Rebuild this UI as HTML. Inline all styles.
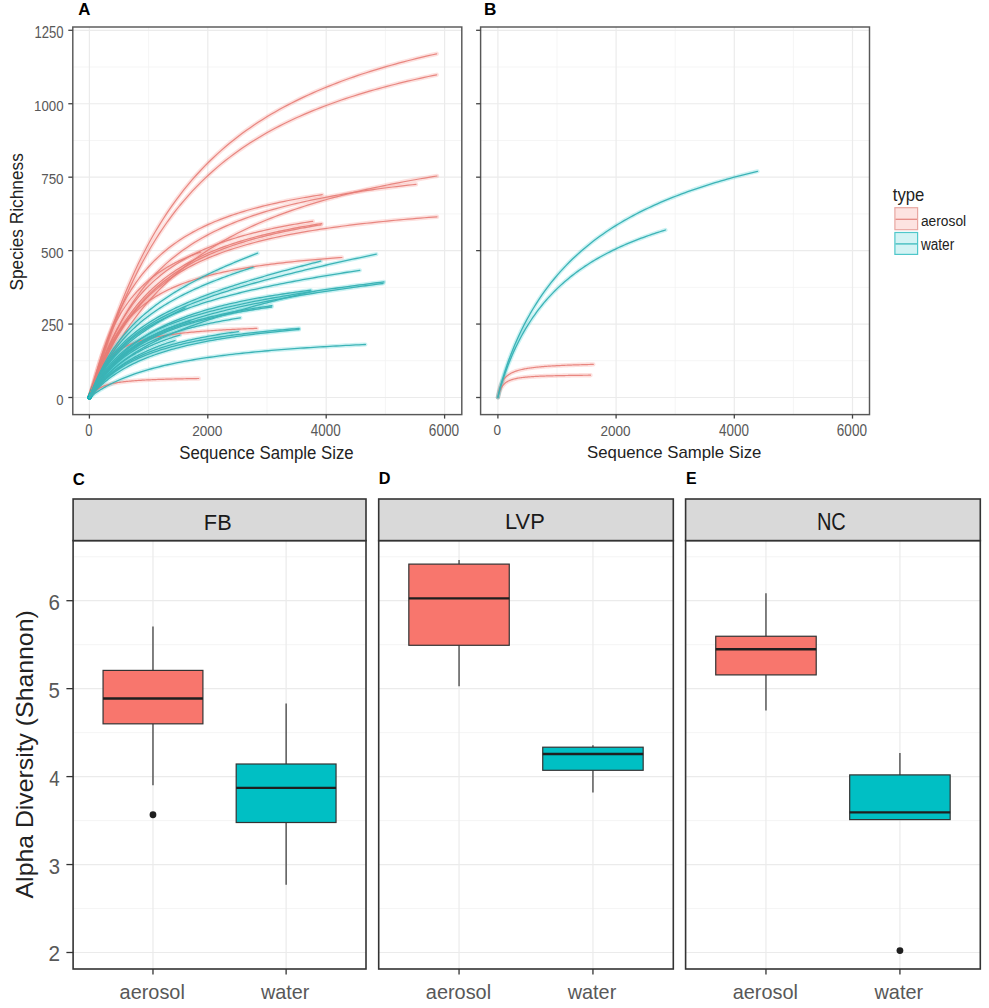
<!DOCTYPE html>
<html><head><meta charset="utf-8"><style>
html,body{margin:0;padding:0;background:#fff;}
body{width:989px;height:1008px;overflow:hidden;font-family:"Liberation Sans",sans-serif;}
svg{display:block;}
text{font-family:"Liberation Sans",sans-serif;}
</style></head><body>
<svg width="989" height="1008" viewBox="0 0 989 1008" font-family="Liberation Sans, sans-serif">
<rect x="0" y="0" width="989" height="1008" fill="#ffffff"/>
<line x1="72.80" y1="360.78" x2="461.80" y2="360.78" stroke="#f3f3f3" stroke-width="0.80"/>
<line x1="72.80" y1="287.34" x2="461.80" y2="287.34" stroke="#f3f3f3" stroke-width="0.80"/>
<line x1="72.80" y1="213.90" x2="461.80" y2="213.90" stroke="#f3f3f3" stroke-width="0.80"/>
<line x1="72.80" y1="140.46" x2="461.80" y2="140.46" stroke="#f3f3f3" stroke-width="0.80"/>
<line x1="72.80" y1="67.02" x2="461.80" y2="67.02" stroke="#f3f3f3" stroke-width="0.80"/>
<line x1="148.60" y1="27.00" x2="148.60" y2="414.60" stroke="#f3f3f3" stroke-width="0.80"/>
<line x1="267.00" y1="27.00" x2="267.00" y2="414.60" stroke="#f3f3f3" stroke-width="0.80"/>
<line x1="385.40" y1="27.00" x2="385.40" y2="414.60" stroke="#f3f3f3" stroke-width="0.80"/>
<line x1="72.80" y1="397.50" x2="461.80" y2="397.50" stroke="#ebebeb" stroke-width="1.20"/>
<line x1="72.80" y1="324.06" x2="461.80" y2="324.06" stroke="#ebebeb" stroke-width="1.20"/>
<line x1="72.80" y1="250.62" x2="461.80" y2="250.62" stroke="#ebebeb" stroke-width="1.20"/>
<line x1="72.80" y1="177.18" x2="461.80" y2="177.18" stroke="#ebebeb" stroke-width="1.20"/>
<line x1="72.80" y1="103.74" x2="461.80" y2="103.74" stroke="#ebebeb" stroke-width="1.20"/>
<line x1="72.80" y1="30.30" x2="461.80" y2="30.30" stroke="#ebebeb" stroke-width="1.20"/>
<line x1="89.40" y1="27.00" x2="89.40" y2="414.60" stroke="#ebebeb" stroke-width="1.20"/>
<line x1="207.80" y1="27.00" x2="207.80" y2="414.60" stroke="#ebebeb" stroke-width="1.20"/>
<line x1="326.20" y1="27.00" x2="326.20" y2="414.60" stroke="#ebebeb" stroke-width="1.20"/>
<line x1="444.60" y1="27.00" x2="444.60" y2="414.60" stroke="#ebebeb" stroke-width="1.20"/>
<g fill="none" stroke="#f8766d" stroke-width="4.40" stroke-linejoin="round" stroke-linecap="round" stroke-opacity="0.22"><path d="M89.40 397.50 L90.40 394.83 L91.40 391.83 L92.40 388.70 L93.40 385.52 L94.40 382.30 L95.40 379.07 L96.40 375.83 L97.40 372.60 L98.40 369.38 L99.40 366.17 L100.40 362.99 L101.40 359.82 L102.40 356.68 L103.40 353.57 L104.40 350.48 L105.40 347.42 L106.40 344.39 L107.40 341.39 L108.40 338.42 L109.40 335.48 L113.54 323.65 L117.69 312.36 L121.83 301.61 L125.97 291.38 L130.12 281.64 L134.26 272.38 L138.40 263.57 L142.54 255.17 L146.69 247.18 L150.83 239.56 L154.97 232.29 L159.12 225.36 L163.26 218.74 L167.40 212.41 L171.55 206.36 L175.69 200.56 L179.83 195.02 L183.97 189.70 L188.12 184.61 L192.26 179.72 L196.40 175.02 L200.55 170.51 L204.69 166.17 L208.83 162.00 L212.98 157.98 L217.12 154.11 L221.26 150.38 L225.41 146.78 L229.55 143.31 L233.69 139.96 L237.83 136.73 L241.98 133.60 L246.12 130.58 L250.26 127.65 L254.41 124.82 L258.55 122.08 L262.69 119.43 L266.84 116.86 L270.98 114.36 L275.12 111.95 L279.26 109.60 L283.41 107.32 L287.55 105.11 L291.69 102.96 L295.84 100.87 L299.98 98.84 L304.12 96.87 L308.27 94.95 L312.41 93.08 L316.55 91.26 L320.69 89.49 L324.84 87.77 L328.98 86.08 L333.12 84.45 L337.27 82.85 L341.41 81.29 L345.55 79.77 L349.70 78.29 L353.84 76.84 L357.98 75.43 L362.13 74.05 L366.27 72.70 L370.41 71.38 L374.55 70.10 L378.70 68.84 L382.84 67.61 L386.98 66.40 L391.13 65.23 L395.27 64.08 L399.41 62.95 L403.56 61.85 L407.70 60.77 L411.84 59.71 L415.98 58.67 L420.13 57.66 L424.27 56.67 L428.41 55.69 L432.56 54.74 L436.70 53.80"/><path d="M89.40 397.50 L90.40 394.94 L91.40 392.04 L92.40 389.04 L93.40 385.98 L94.40 382.89 L95.40 379.79 L96.40 376.69 L97.40 373.59 L98.40 370.50 L99.40 367.43 L100.40 364.38 L101.40 361.35 L102.40 358.35 L103.40 355.37 L104.40 352.42 L105.40 349.50 L106.40 346.61 L107.40 343.74 L108.40 340.91 L109.40 338.11 L113.54 326.84 L117.69 316.10 L121.83 305.89 L125.97 296.19 L130.12 286.97 L134.26 278.21 L138.40 269.89 L142.54 261.97 L146.69 254.44 L150.83 247.27 L154.97 240.44 L159.12 233.92 L163.26 227.71 L167.40 221.78 L171.55 216.11 L175.69 210.69 L179.83 205.50 L183.97 200.54 L188.12 195.78 L192.26 191.22 L196.40 186.84 L200.55 182.63 L204.69 178.59 L208.83 174.71 L212.98 170.97 L217.12 167.37 L221.26 163.91 L225.41 160.57 L229.55 157.35 L233.69 154.24 L237.83 151.24 L241.98 148.34 L246.12 145.54 L250.26 142.83 L254.41 140.21 L258.55 137.68 L262.69 135.22 L266.84 132.84 L270.98 130.54 L275.12 128.30 L279.26 126.14 L283.41 124.03 L287.55 121.99 L291.69 120.01 L295.84 118.08 L299.98 116.21 L304.12 114.39 L308.27 112.62 L312.41 110.90 L316.55 109.22 L320.69 107.59 L324.84 106.00 L328.98 104.45 L333.12 102.95 L337.27 101.48 L341.41 100.04 L345.55 98.64 L349.70 97.28 L353.84 95.95 L357.98 94.65 L362.13 93.38 L366.27 92.14 L370.41 90.93 L374.55 89.75 L378.70 88.60 L382.84 87.47 L386.98 86.36 L391.13 85.28 L395.27 84.22 L399.41 83.19 L403.56 82.18 L407.70 81.19 L411.84 80.22 L415.98 79.27 L420.13 78.34 L424.27 77.43 L428.41 76.53 L432.56 75.66 L436.70 74.80"/><path d="M89.40 397.50 L90.40 394.33 L91.40 390.81 L92.40 387.21 L93.40 383.60 L94.40 380.01 L95.40 376.47 L96.40 372.98 L97.40 369.55 L98.40 366.19 L99.40 362.89 L100.40 359.67 L101.40 356.52 L102.40 353.44 L103.40 350.43 L104.40 347.49 L105.40 344.61 L106.40 341.81 L107.40 339.07 L108.40 336.40 L109.40 333.80 L112.09 327.08 L114.79 320.78 L117.48 314.87 L120.17 309.32 L122.87 304.10 L125.56 299.19 L128.26 294.56 L130.95 290.20 L133.64 286.07 L136.34 282.18 L139.03 278.49 L141.72 274.99 L144.42 271.67 L147.11 268.52 L149.81 265.52 L152.50 262.67 L155.19 259.95 L157.89 257.36 L160.58 254.88 L163.27 252.52 L165.97 250.25 L168.66 248.09 L171.35 246.02 L174.05 244.03 L176.74 242.12 L179.44 240.29 L182.13 238.53 L184.82 236.84 L187.52 235.21 L190.21 233.65 L192.90 232.14 L195.60 230.69 L198.29 229.28 L200.98 227.93 L203.68 226.62 L206.37 225.36 L209.07 224.14 L211.76 222.96 L214.45 221.81 L217.15 220.71 L219.84 219.64 L222.53 218.60 L225.23 217.59 L227.92 216.62 L230.62 215.67 L233.31 214.75 L236.00 213.86 L238.70 212.99 L241.39 212.15 L244.08 211.33 L246.78 210.53 L249.47 209.76 L252.16 209.01 L254.86 208.27 L257.55 207.56 L260.25 206.86 L262.94 206.18 L265.63 205.52 L268.33 204.88 L271.02 204.25 L273.71 203.63 L276.41 203.04 L279.10 202.45 L281.79 201.88 L284.49 201.32 L287.18 200.78 L289.88 200.25 L292.57 199.73 L295.26 199.22 L297.96 198.72 L300.65 198.24 L303.34 197.76 L306.04 197.29 L308.73 196.84 L311.43 196.39 L314.12 195.96 L316.81 195.53 L319.51 195.11 L322.20 194.70"/><path d="M89.40 397.50 L90.40 395.11 L91.40 392.43 L92.40 389.66 L93.40 386.87 L94.40 384.07 L95.40 381.28 L96.40 378.51 L97.40 375.76 L98.40 373.05 L99.40 370.37 L100.40 367.72 L101.40 365.12 L102.40 362.55 L103.40 360.03 L104.40 357.54 L105.40 355.10 L106.40 352.70 L107.40 350.33 L108.40 348.01 L109.40 345.73 L113.28 337.26 L117.16 329.35 L121.04 321.97 L124.92 315.08 L128.81 308.64 L132.69 302.62 L136.57 296.99 L140.45 291.70 L144.33 286.73 L148.21 282.06 L152.09 277.66 L155.97 273.52 L159.85 269.60 L163.73 265.90 L167.62 262.40 L171.50 259.08 L175.38 255.93 L179.26 252.94 L183.14 250.09 L187.02 247.39 L190.90 244.81 L194.78 242.35 L198.66 240.00 L202.54 237.75 L206.43 235.60 L210.31 233.55 L214.19 231.58 L218.07 229.69 L221.95 227.88 L225.83 226.14 L229.71 224.47 L233.59 222.86 L237.47 221.31 L241.35 219.82 L245.24 218.39 L249.12 217.01 L253.00 215.67 L256.88 214.38 L260.76 213.14 L264.64 211.94 L268.52 210.77 L272.40 209.65 L276.28 208.56 L280.16 207.51 L284.05 206.49 L287.93 205.50 L291.81 204.54 L295.69 203.61 L299.57 202.71 L303.45 201.83 L307.33 200.98 L311.21 200.15 L315.09 199.35 L318.97 198.57 L322.86 197.81 L326.74 197.07 L330.62 196.35 L334.50 195.65 L338.38 194.97 L342.26 194.30 L346.14 193.66 L350.02 193.02 L353.90 192.41 L357.78 191.81 L361.67 191.22 L365.55 190.65 L369.43 190.09 L373.31 189.55 L377.19 189.01 L381.07 188.49 L384.95 187.99 L388.83 187.49 L392.71 187.00 L396.59 186.53 L400.48 186.06 L404.36 185.61 L408.24 185.16 L412.12 184.73 L416.00 184.30"/><path d="M89.40 397.50 L90.40 395.54 L91.40 393.46 L92.40 391.37 L93.40 389.26 L94.40 387.17 L95.40 385.08 L96.40 383.00 L97.40 380.95 L98.40 378.91 L99.40 376.88 L100.40 374.88 L101.40 372.90 L102.40 370.94 L103.40 369.00 L104.40 367.08 L105.40 365.19 L106.40 363.31 L107.40 361.46 L108.40 359.63 L109.40 357.82 L113.55 350.53 L117.69 343.60 L121.84 337.01 L125.99 330.73 L130.13 324.75 L134.28 319.05 L138.43 313.61 L142.57 308.43 L146.72 303.47 L150.87 298.74 L155.02 294.22 L159.16 289.88 L163.31 285.74 L167.46 281.76 L171.60 277.94 L175.75 274.28 L179.90 270.76 L184.04 267.38 L188.19 264.13 L192.34 261.00 L196.48 257.99 L200.63 255.08 L204.78 252.28 L208.92 249.58 L213.07 246.97 L217.22 244.44 L221.36 242.01 L225.51 239.65 L229.66 237.37 L233.81 235.17 L237.95 233.03 L242.10 230.96 L246.25 228.96 L250.39 227.01 L254.54 225.12 L258.69 223.29 L262.83 221.51 L266.98 219.79 L271.13 218.11 L275.27 216.48 L279.42 214.89 L283.57 213.35 L287.71 211.85 L291.86 210.38 L296.01 208.96 L300.15 207.57 L304.30 206.22 L308.45 204.91 L312.59 203.62 L316.74 202.37 L320.89 201.15 L325.04 199.96 L329.18 198.79 L333.33 197.66 L337.48 196.55 L341.62 195.46 L345.77 194.40 L349.92 193.37 L354.06 192.35 L358.21 191.36 L362.36 190.40 L366.50 189.45 L370.65 188.52 L374.80 187.61 L378.94 186.73 L383.09 185.86 L387.24 185.00 L391.38 184.17 L395.53 183.35 L399.68 182.55 L403.83 181.76 L407.97 180.99 L412.12 180.24 L416.27 179.50 L420.41 178.77 L424.56 178.06 L428.71 177.36 L432.85 176.67 L437.00 176.00"/><path d="M89.40 397.50 L90.40 394.91 L91.40 392.03 L92.40 389.08 L93.40 386.12 L94.40 383.16 L95.40 380.23 L96.40 377.34 L97.40 374.50 L98.40 371.70 L99.40 368.95 L100.40 366.26 L101.40 363.62 L102.40 361.03 L103.40 358.50 L104.40 356.02 L105.40 353.60 L106.40 351.23 L107.40 348.91 L108.40 346.64 L109.40 344.42 L111.97 338.93 L114.55 333.74 L117.12 328.85 L119.70 324.22 L122.27 319.84 L124.85 315.69 L127.42 311.76 L130.00 308.04 L132.57 304.50 L135.15 301.14 L137.72 297.95 L140.30 294.91 L142.87 292.01 L145.45 289.25 L148.02 286.61 L150.59 284.09 L153.17 281.68 L155.74 279.37 L158.32 277.17 L160.89 275.05 L163.47 273.02 L166.04 271.08 L168.62 269.21 L171.19 267.41 L173.77 265.68 L176.34 264.02 L178.92 262.41 L181.49 260.87 L184.07 259.38 L186.64 257.95 L189.22 256.56 L191.79 255.22 L194.36 253.93 L196.94 252.68 L199.51 251.47 L202.09 250.30 L204.66 249.17 L207.24 248.07 L209.81 247.01 L212.39 245.98 L214.96 244.98 L217.54 244.01 L220.11 243.06 L222.69 242.15 L225.26 241.26 L227.84 240.40 L230.41 239.56 L232.98 238.74 L235.56 237.95 L238.13 237.18 L240.71 236.42 L243.28 235.69 L245.86 234.98 L248.43 234.28 L251.01 233.60 L253.58 232.94 L256.16 232.30 L258.73 231.67 L261.31 231.06 L263.88 230.46 L266.46 229.87 L269.03 229.30 L271.61 228.74 L274.18 228.20 L276.75 227.66 L279.33 227.14 L281.90 226.63 L284.48 226.14 L287.05 225.65 L289.63 225.17 L292.20 224.70 L294.78 224.25 L297.35 223.80 L299.93 223.36 L302.50 222.93 L305.08 222.51 L307.65 222.10 L310.23 221.70 L312.80 221.30"/><path d="M89.40 397.50 L90.40 395.20 L91.40 392.63 L92.40 389.99 L93.40 387.33 L94.40 384.67 L95.40 382.03 L96.40 379.41 L97.40 376.82 L98.40 374.27 L99.40 371.76 L100.40 369.29 L101.40 366.87 L102.40 364.48 L103.40 362.14 L104.40 359.84 L105.40 357.59 L106.40 355.38 L107.40 353.21 L108.40 351.09 L109.40 349.00 L112.09 343.61 L114.77 338.50 L117.46 333.65 L120.14 329.06 L122.83 324.70 L125.52 320.57 L128.20 316.64 L130.89 312.91 L133.57 309.35 L136.26 305.97 L138.95 302.75 L141.63 299.67 L144.32 296.74 L147.01 293.94 L149.69 291.26 L152.38 288.69 L155.06 286.24 L157.75 283.89 L160.44 281.63 L163.12 279.47 L165.81 277.39 L168.49 275.39 L171.18 273.47 L173.87 271.63 L176.55 269.85 L179.24 268.14 L181.92 266.49 L184.61 264.89 L187.30 263.36 L189.98 261.88 L192.67 260.44 L195.35 259.06 L198.04 257.72 L200.73 256.42 L203.41 255.17 L206.10 253.95 L208.78 252.78 L211.47 251.64 L214.16 250.53 L216.84 249.46 L219.53 248.42 L222.22 247.41 L224.90 246.43 L227.59 245.47 L230.27 244.55 L232.96 243.65 L235.65 242.77 L238.33 241.92 L241.02 241.09 L243.70 240.28 L246.39 239.49 L249.08 238.72 L251.76 237.98 L254.45 237.25 L257.13 236.54 L259.82 235.85 L262.51 235.17 L265.19 234.51 L267.88 233.87 L270.56 233.24 L273.25 232.62 L275.94 232.02 L278.62 231.44 L281.31 230.86 L283.99 230.30 L286.68 229.76 L289.37 229.22 L292.05 228.70 L294.74 228.18 L297.43 227.68 L300.11 227.19 L302.80 226.71 L305.48 226.24 L308.17 225.77 L310.86 225.32 L313.54 224.88 L316.23 224.44 L318.91 224.02 L321.60 223.60"/><path d="M89.40 397.50 L90.40 395.31 L91.40 392.86 L92.40 390.34 L93.40 387.79 L94.40 385.25 L95.40 382.73 L96.40 380.22 L97.40 377.75 L98.40 375.31 L99.40 372.90 L100.40 370.54 L101.40 368.21 L102.40 365.93 L103.40 363.68 L104.40 361.48 L105.40 359.31 L106.40 357.19 L107.40 355.11 L108.40 353.07 L109.40 351.06 L113.55 343.16 L117.69 335.88 L121.84 329.17 L125.99 322.97 L130.13 317.23 L134.28 311.92 L138.43 306.98 L142.57 302.40 L146.72 298.12 L150.87 294.13 L155.02 290.40 L159.16 286.91 L163.31 283.63 L167.46 280.55 L171.60 277.64 L175.75 274.91 L179.90 272.33 L184.04 269.89 L188.19 267.57 L192.34 265.38 L196.48 263.30 L200.63 261.33 L204.78 259.45 L208.92 257.66 L213.07 255.95 L217.22 254.33 L221.36 252.77 L225.51 251.29 L229.66 249.86 L233.81 248.50 L237.95 247.20 L242.10 245.95 L246.25 244.74 L250.39 243.59 L254.54 242.48 L258.69 241.41 L262.83 240.38 L266.98 239.39 L271.13 238.44 L275.27 237.52 L279.42 236.63 L283.57 235.77 L287.71 234.94 L291.86 234.14 L296.01 233.37 L300.15 232.62 L304.30 231.89 L308.45 231.19 L312.59 230.50 L316.74 229.84 L320.89 229.20 L325.04 228.58 L329.18 227.98 L333.33 227.39 L337.48 226.82 L341.62 226.27 L345.77 225.73 L349.92 225.21 L354.06 224.70 L358.21 224.20 L362.36 223.72 L366.50 223.25 L370.65 222.79 L374.80 222.34 L378.94 221.91 L383.09 221.49 L387.24 221.07 L391.38 220.67 L395.53 220.27 L399.68 219.89 L403.83 219.51 L407.97 219.15 L412.12 218.79 L416.27 218.44 L420.41 218.10 L424.56 217.76 L428.71 217.43 L432.85 217.11 L437.00 216.80"/><path d="M89.40 397.50 L90.40 394.18 L91.40 390.52 L92.40 386.81 L93.40 383.13 L94.40 379.51 L95.40 375.96 L96.40 372.50 L97.40 369.13 L98.40 365.85 L99.40 362.67 L100.40 359.58 L101.40 356.59 L102.40 353.68 L103.40 350.86 L104.40 348.13 L105.40 345.49 L106.40 342.92 L107.40 340.43 L108.40 338.02 L109.40 335.68 L110.55 333.07 L111.71 330.55 L112.86 328.11 L114.01 325.76 L115.17 323.48 L116.32 321.28 L117.47 319.16 L118.63 317.10 L119.78 315.10 L120.93 313.17 L122.08 311.30 L123.24 309.49 L124.39 307.73 L125.54 306.03 L126.70 304.37 L127.85 302.77 L129.00 301.21 L130.16 299.70 L131.31 298.23 L132.46 296.80 L133.62 295.41 L134.77 294.06 L135.92 292.74 L137.08 291.47 L138.23 290.22 L139.38 289.01 L140.54 287.83 L141.69 286.68 L142.84 285.56 L143.99 284.47 L145.15 283.40 L146.30 282.37 L147.45 281.35 L148.61 280.36 L149.76 279.40 L150.91 278.46 L152.07 277.54 L153.22 276.64 L154.37 275.76 L155.53 274.90 L156.68 274.06 L157.83 273.25 L158.99 272.44 L160.14 271.66 L161.29 270.89 L162.45 270.14 L163.60 269.41 L164.75 268.69 L165.91 267.98 L167.06 267.29 L168.21 266.62 L169.36 265.96 L170.52 265.31 L171.67 264.67 L172.82 264.05 L173.98 263.44 L175.13 262.84 L176.28 262.25 L177.44 261.68 L178.59 261.11 L179.74 260.56 L180.90 260.01 L182.05 259.48 L183.20 258.95 L184.36 258.44 L185.51 257.93 L186.66 257.43 L187.82 256.95 L188.97 256.47 L190.12 256.00 L191.27 255.53 L192.43 255.08 L193.58 254.63 L194.73 254.19 L195.89 253.76 L197.04 253.33 L198.19 252.92 L199.35 252.50 L200.50 252.10"/><path d="M89.40 397.50 L90.40 394.79 L91.40 391.79 L92.40 388.76 L93.40 385.75 L94.40 382.79 L95.40 379.89 L96.40 377.05 L97.40 374.29 L98.40 371.61 L99.40 369.00 L100.40 366.46 L101.40 364.01 L102.40 361.62 L103.40 359.31 L104.40 357.07 L105.40 354.90 L106.40 352.79 L107.40 350.74 L108.40 348.76 L109.40 346.84 L112.34 341.50 L115.29 336.61 L118.23 332.11 L121.17 327.98 L124.12 324.16 L127.06 320.63 L130.00 317.35 L132.94 314.31 L135.89 311.48 L138.83 308.83 L141.77 306.36 L144.72 304.05 L147.66 301.88 L150.60 299.84 L153.55 297.92 L156.49 296.11 L159.43 294.40 L162.37 292.78 L165.32 291.25 L168.26 289.80 L171.20 288.42 L174.15 287.12 L177.09 285.87 L180.03 284.68 L182.98 283.55 L185.92 282.48 L188.86 281.44 L191.81 280.46 L194.75 279.52 L197.69 278.61 L200.63 277.75 L203.58 276.91 L206.52 276.12 L209.46 275.35 L212.41 274.61 L215.35 273.90 L218.29 273.22 L221.24 272.56 L224.18 271.93 L227.12 271.31 L230.06 270.72 L233.01 270.15 L235.95 269.60 L238.89 269.07 L241.84 268.55 L244.78 268.05 L247.72 267.57 L250.67 267.10 L253.61 266.65 L256.55 266.21 L259.49 265.78 L262.44 265.37 L265.38 264.96 L268.32 264.57 L271.27 264.19 L274.21 263.82 L277.15 263.46 L280.10 263.11 L283.04 262.78 L285.98 262.44 L288.93 262.12 L291.87 261.81 L294.81 261.50 L297.75 261.21 L300.70 260.91 L303.64 260.63 L306.58 260.36 L309.53 260.09 L312.47 259.82 L315.41 259.57 L318.36 259.31 L321.30 259.07 L324.24 258.83 L327.18 258.60 L330.13 258.37 L333.07 258.14 L336.01 257.92 L338.96 257.71 L341.90 257.50"/><path d="M89.40 397.50 L90.40 394.56 L91.40 391.47 L92.40 388.49 L93.40 385.66 L94.40 383.01 L95.40 380.51 L96.40 378.18 L97.40 376.00 L98.40 373.96 L99.40 372.04 L100.40 370.25 L101.40 368.57 L102.40 366.98 L103.40 365.50 L104.40 364.09 L105.40 362.77 L106.40 361.52 L107.40 360.34 L108.40 359.22 L109.40 358.16 L111.27 356.33 L113.13 354.66 L115.00 353.14 L116.86 351.74 L118.73 350.45 L120.59 349.27 L122.46 348.18 L124.33 347.16 L126.19 346.22 L128.06 345.34 L129.92 344.52 L131.79 343.75 L133.66 343.03 L135.52 342.36 L137.39 341.73 L139.25 341.13 L141.12 340.56 L142.98 340.03 L144.85 339.53 L146.72 339.05 L148.58 338.59 L150.45 338.16 L152.31 337.75 L154.18 337.36 L156.05 336.99 L157.91 336.63 L159.78 336.29 L161.64 335.97 L163.51 335.66 L165.37 335.36 L167.24 335.08 L169.11 334.80 L170.97 334.54 L172.84 334.29 L174.70 334.04 L176.57 333.81 L178.44 333.59 L180.30 333.37 L182.17 333.16 L184.03 332.96 L185.90 332.76 L187.76 332.58 L189.63 332.39 L191.50 332.22 L193.36 332.05 L195.23 331.88 L197.09 331.72 L198.96 331.57 L200.83 331.42 L202.69 331.27 L204.56 331.13 L206.42 331.00 L208.29 330.86 L210.15 330.74 L212.02 330.61 L213.89 330.49 L215.75 330.37 L217.62 330.25 L219.48 330.14 L221.35 330.03 L223.22 329.93 L225.08 329.82 L226.95 329.72 L228.81 329.62 L230.68 329.53 L232.54 329.43 L234.41 329.34 L236.28 329.25 L238.14 329.17 L240.01 329.08 L241.87 329.00 L243.74 328.92 L245.61 328.84 L247.47 328.76 L249.34 328.69 L251.20 328.61 L253.07 328.54 L254.93 328.47 L256.80 328.40"/><path d="M89.40 397.50 L90.40 396.23 L91.40 394.96 L92.40 393.79 L93.40 392.73 L94.40 391.77 L95.40 390.90 L96.40 390.12 L97.40 389.41 L98.40 388.76 L99.40 388.18 L100.40 387.64 L101.40 387.14 L102.40 386.69 L103.40 386.27 L104.40 385.88 L105.40 385.52 L106.40 385.19 L107.40 384.88 L108.40 384.59 L109.40 384.32 L110.53 384.03 L111.66 383.76 L112.79 383.51 L113.92 383.28 L115.05 383.06 L116.18 382.86 L117.31 382.67 L118.44 382.49 L119.57 382.32 L120.70 382.15 L121.83 382.00 L122.96 381.86 L124.09 381.72 L125.23 381.59 L126.36 381.47 L127.49 381.35 L128.62 381.24 L129.75 381.13 L130.88 381.03 L132.01 380.93 L133.14 380.83 L134.27 380.74 L135.40 380.66 L136.53 380.58 L137.66 380.50 L138.79 380.42 L139.92 380.35 L141.05 380.28 L142.18 380.21 L143.31 380.14 L144.44 380.08 L145.57 380.02 L146.70 379.96 L147.83 379.91 L148.96 379.85 L150.09 379.80 L151.22 379.75 L152.35 379.70 L153.48 379.65 L154.62 379.60 L155.75 379.56 L156.88 379.51 L158.01 379.47 L159.14 379.43 L160.27 379.39 L161.40 379.35 L162.53 379.31 L163.66 379.28 L164.79 379.24 L165.92 379.21 L167.05 379.17 L168.18 379.14 L169.31 379.11 L170.44 379.08 L171.57 379.05 L172.70 379.02 L173.83 378.99 L174.96 378.96 L176.09 378.93 L177.22 378.91 L178.35 378.88 L179.48 378.86 L180.61 378.83 L181.74 378.81 L182.87 378.78 L184.01 378.76 L185.14 378.74 L186.27 378.71 L187.40 378.69 L188.53 378.67 L189.66 378.65 L190.79 378.63 L191.92 378.61 L193.05 378.59 L194.18 378.57 L195.31 378.55 L196.44 378.54 L197.57 378.52 L198.70 378.50"/><path d="M89.40 397.50 L90.40 395.31 L91.40 392.87 L92.40 390.35 L93.40 387.81 L94.40 385.27 L95.40 382.74 L96.40 380.23 L97.40 377.75 L98.40 375.30 L99.40 372.88 L100.40 370.50 L101.40 368.16 L102.40 365.86 L103.40 363.60 L104.40 361.37 L105.40 359.19 L106.40 357.05 L107.40 354.94 L108.40 352.87 L109.40 350.85 L112.08 345.60 L114.76 340.62 L117.44 335.88 L120.11 331.38 L122.79 327.09 L125.47 323.02 L128.15 319.14 L130.83 315.45 L133.51 311.93 L136.18 308.57 L138.86 305.36 L141.54 302.30 L144.22 299.37 L146.90 296.57 L149.58 293.88 L152.26 291.31 L154.93 288.85 L157.61 286.48 L160.29 284.21 L162.97 282.03 L165.65 279.94 L168.33 277.92 L171.01 275.98 L173.68 274.11 L176.36 272.31 L179.04 270.57 L181.72 268.89 L184.40 267.27 L187.08 265.71 L189.75 264.20 L192.43 262.74 L195.11 261.33 L197.79 259.96 L200.47 258.64 L203.15 257.36 L205.83 256.12 L208.50 254.91 L211.18 253.75 L213.86 252.61 L216.54 251.51 L219.22 250.45 L221.90 249.41 L224.57 248.40 L227.25 247.42 L229.93 246.47 L232.61 245.54 L235.29 244.64 L237.97 243.76 L240.65 242.91 L243.32 242.07 L246.00 241.26 L248.68 240.47 L251.36 239.70 L254.04 238.95 L256.72 238.21 L259.39 237.50 L262.07 236.80 L264.75 236.12 L267.43 235.45 L270.11 234.80 L272.79 234.16 L275.47 233.54 L278.14 232.94 L280.82 232.34 L283.50 231.76 L286.18 231.19 L288.86 230.64 L291.54 230.09 L294.22 229.56 L296.89 229.04 L299.57 228.53 L302.25 228.03 L304.93 227.54 L307.61 227.06 L310.29 226.59 L312.96 226.13 L315.64 225.68 L318.32 225.23 L321.00 224.80"/></g><g fill="none" stroke="#00bfc4" stroke-width="4.20" stroke-linejoin="round" stroke-linecap="round" stroke-opacity="0.20"><path d="M89.40 397.50 L90.40 394.71 L91.40 392.02 L92.40 389.41 L93.40 386.89 L94.40 384.44 L95.40 382.07 L96.40 379.77 L97.40 377.54 L98.40 375.37 L99.40 373.26 L100.40 371.22 L101.40 369.22 L102.40 367.28 L103.40 365.39 L104.40 363.55 L105.40 361.76 L106.40 360.01 L107.40 358.30 L108.40 356.64 L109.40 355.01 L111.28 352.06 L113.15 349.23 L115.03 346.52 L116.90 343.91 L118.78 341.40 L120.66 338.98 L122.53 336.65 L124.41 334.39 L126.28 332.22 L128.16 330.11 L130.04 328.08 L131.91 326.10 L133.79 324.18 L135.66 322.32 L137.54 320.52 L139.42 318.76 L141.29 317.05 L143.17 315.38 L145.04 313.76 L146.92 312.18 L148.79 310.63 L150.67 309.12 L152.55 307.65 L154.42 306.21 L156.30 304.80 L158.17 303.42 L160.05 302.07 L161.93 300.74 L163.80 299.45 L165.68 298.17 L167.55 296.92 L169.43 295.70 L171.31 294.49 L173.18 293.31 L175.06 292.15 L176.93 291.01 L178.81 289.88 L180.69 288.77 L182.56 287.69 L184.44 286.61 L186.31 285.56 L188.19 284.51 L190.07 283.49 L191.94 282.47 L193.82 281.48 L195.69 280.49 L197.57 279.52 L199.45 278.56 L201.32 277.61 L203.20 276.67 L205.07 275.75 L206.95 274.83 L208.83 273.93 L210.70 273.03 L212.58 272.15 L214.45 271.27 L216.33 270.41 L218.21 269.55 L220.08 268.70 L221.96 267.86 L223.83 267.03 L225.71 266.20 L227.58 265.39 L229.46 264.58 L231.34 263.78 L233.21 262.98 L235.09 262.19 L236.96 261.41 L238.84 260.64 L240.72 259.87 L242.59 259.10 L244.47 258.35 L246.34 257.59 L248.22 256.85 L250.10 256.11 L251.97 255.37 L253.85 254.64 L255.72 253.92 L257.60 253.20"/><path d="M89.40 397.50 L90.40 394.88 L91.40 392.35 L92.40 389.90 L93.40 387.53 L94.40 385.22 L95.40 382.99 L96.40 380.82 L97.40 378.71 L98.40 376.67 L99.40 374.68 L100.40 372.74 L101.40 370.86 L102.40 369.02 L103.40 367.24 L104.40 365.50 L105.40 363.80 L106.40 362.15 L107.40 360.53 L108.40 358.96 L109.40 357.42 L111.22 354.71 L113.04 352.12 L114.85 349.62 L116.67 347.23 L118.49 344.92 L120.31 342.70 L122.12 340.55 L123.94 338.49 L125.76 336.49 L127.58 334.55 L129.39 332.68 L131.21 330.87 L133.03 329.12 L134.85 327.42 L136.67 325.76 L138.48 324.16 L140.30 322.60 L142.12 321.08 L143.94 319.60 L145.75 318.16 L147.57 316.76 L149.39 315.40 L151.21 314.06 L153.03 312.76 L154.84 311.49 L156.66 310.25 L158.48 309.04 L160.30 307.85 L162.11 306.69 L163.93 305.56 L165.75 304.44 L167.57 303.35 L169.38 302.28 L171.20 301.24 L173.02 300.21 L174.84 299.20 L176.66 298.21 L178.47 297.24 L180.29 296.29 L182.11 295.35 L183.93 294.43 L185.74 293.52 L187.56 292.63 L189.38 291.75 L191.20 290.89 L193.02 290.03 L194.83 289.20 L196.65 288.37 L198.47 287.56 L200.29 286.76 L202.10 285.97 L203.92 285.19 L205.74 284.42 L207.56 283.66 L209.37 282.91 L211.19 282.18 L213.01 281.45 L214.83 280.73 L216.65 280.01 L218.46 279.31 L220.28 278.62 L222.10 277.93 L223.92 277.25 L225.73 276.58 L227.55 275.92 L229.37 275.26 L231.19 274.61 L233.01 273.97 L234.82 273.33 L236.64 272.70 L238.46 272.08 L240.28 271.46 L242.09 270.85 L243.91 270.25 L245.73 269.65 L247.55 269.05 L249.36 268.46 L251.18 267.88 L253.00 267.30"/><path d="M89.40 397.50 L90.40 394.84 L91.40 392.29 L92.40 389.84 L93.40 387.48 L94.40 385.22 L95.40 383.03 L96.40 380.93 L97.40 378.90 L98.40 376.94 L99.40 375.05 L100.40 373.21 L101.40 371.44 L102.40 369.73 L103.40 368.06 L104.40 366.45 L105.40 364.88 L106.40 363.37 L107.40 361.89 L108.40 360.45 L109.40 359.06 L112.07 355.50 L114.75 352.18 L117.42 349.07 L120.10 346.15 L122.77 343.40 L125.45 340.80 L128.12 338.33 L130.80 335.99 L133.47 333.76 L136.15 331.63 L138.82 329.60 L141.50 327.65 L144.17 325.78 L146.85 323.98 L149.52 322.25 L152.19 320.58 L154.87 318.97 L157.54 317.41 L160.22 315.90 L162.89 314.44 L165.57 313.02 L168.24 311.64 L170.92 310.30 L173.59 308.99 L176.27 307.71 L178.94 306.47 L181.62 305.26 L184.29 304.07 L186.97 302.91 L189.64 301.77 L192.32 300.66 L194.99 299.57 L197.66 298.50 L200.34 297.44 L203.01 296.41 L205.69 295.40 L208.36 294.40 L211.04 293.42 L213.71 292.45 L216.39 291.50 L219.06 290.56 L221.74 289.64 L224.41 288.72 L227.09 287.82 L229.76 286.94 L232.44 286.06 L235.11 285.19 L237.78 284.34 L240.46 283.49 L243.13 282.65 L245.81 281.82 L248.48 281.00 L251.16 280.19 L253.83 279.39 L256.51 278.59 L259.18 277.80 L261.86 277.02 L264.53 276.25 L267.21 275.48 L269.88 274.72 L272.56 273.96 L275.23 273.21 L277.91 272.47 L280.58 271.73 L283.25 270.99 L285.93 270.27 L288.60 269.54 L291.28 268.82 L293.95 268.11 L296.63 267.40 L299.30 266.70 L301.98 266.00 L304.65 265.30 L307.33 264.61 L310.00 263.92 L312.68 263.23 L315.35 262.55 L318.03 261.87 L320.70 261.20"/><path d="M89.40 397.50 L90.40 395.00 L91.40 392.59 L92.40 390.28 L93.40 388.04 L94.40 385.89 L95.40 383.81 L96.40 381.80 L97.40 379.86 L98.40 377.99 L99.40 376.17 L100.40 374.41 L101.40 372.70 L102.40 371.04 L103.40 369.44 L104.40 367.88 L105.40 366.36 L106.40 364.89 L107.40 363.45 L108.40 362.06 L109.40 360.70 L112.78 356.36 L116.16 352.37 L119.54 348.67 L122.91 345.25 L126.29 342.05 L129.67 339.05 L133.05 336.24 L136.43 333.60 L139.81 331.09 L143.18 328.72 L146.56 326.47 L149.94 324.32 L153.32 322.27 L156.70 320.31 L160.08 318.43 L163.46 316.62 L166.83 314.88 L170.21 313.21 L173.59 311.59 L176.97 310.03 L180.35 308.52 L183.73 307.05 L187.11 305.62 L190.48 304.24 L193.86 302.89 L197.24 301.58 L200.62 300.30 L204.00 299.05 L207.38 297.83 L210.75 296.64 L214.13 295.47 L217.51 294.33 L220.89 293.21 L224.27 292.11 L227.65 291.03 L231.03 289.97 L234.40 288.93 L237.78 287.90 L241.16 286.89 L244.54 285.90 L247.92 284.92 L251.30 283.95 L254.67 283.00 L258.05 282.06 L261.43 281.14 L264.81 280.22 L268.19 279.32 L271.57 278.42 L274.95 277.54 L278.32 276.66 L281.70 275.80 L285.08 274.94 L288.46 274.10 L291.84 273.26 L295.22 272.43 L298.59 271.60 L301.97 270.78 L305.35 269.98 L308.73 269.17 L312.11 268.38 L315.49 267.58 L318.87 266.80 L322.24 266.02 L325.62 265.25 L329.00 264.48 L332.38 263.72 L335.76 262.96 L339.14 262.21 L342.52 261.46 L345.89 260.71 L349.27 259.98 L352.65 259.24 L356.03 258.51 L359.41 257.78 L362.79 257.06 L366.16 256.34 L369.54 255.62 L372.92 254.91 L376.30 254.20"/><path d="M89.40 397.50 L90.40 395.09 L91.40 392.76 L92.40 390.51 L93.40 388.35 L94.40 386.25 L95.40 384.23 L96.40 382.27 L97.40 380.37 L98.40 378.54 L99.40 376.76 L100.40 375.03 L101.40 373.36 L102.40 371.73 L103.40 370.15 L104.40 368.62 L105.40 367.13 L106.40 365.68 L107.40 364.27 L108.40 362.90 L109.40 361.56 L112.57 357.54 L115.74 353.83 L118.91 350.38 L122.08 347.17 L125.25 344.17 L128.42 341.37 L131.59 338.73 L134.76 336.25 L137.93 333.90 L141.10 331.68 L144.27 329.58 L147.44 327.58 L150.61 325.68 L153.77 323.86 L156.94 322.13 L160.11 320.47 L163.28 318.88 L166.45 317.36 L169.62 315.89 L172.79 314.48 L175.96 313.12 L179.13 311.81 L182.30 310.54 L185.47 309.32 L188.64 308.13 L191.81 306.99 L194.98 305.87 L198.15 304.79 L201.32 303.74 L204.49 302.72 L207.66 301.73 L210.83 300.76 L214.00 299.81 L217.17 298.89 L220.34 297.99 L223.51 297.12 L226.68 296.26 L229.85 295.42 L233.02 294.60 L236.18 293.79 L239.35 293.00 L242.52 292.23 L245.69 291.47 L248.86 290.73 L252.03 289.99 L255.20 289.28 L258.37 288.57 L261.54 287.88 L264.71 287.19 L267.88 286.52 L271.05 285.86 L274.22 285.21 L277.39 284.57 L280.56 283.93 L283.73 283.31 L286.90 282.69 L290.07 282.09 L293.24 281.49 L296.41 280.89 L299.58 280.31 L302.75 279.73 L305.92 279.16 L309.09 278.60 L312.26 278.04 L315.43 277.49 L318.59 276.94 L321.76 276.40 L324.93 275.87 L328.10 275.34 L331.27 274.81 L334.44 274.29 L337.61 273.78 L340.78 273.27 L343.95 272.76 L347.12 272.26 L350.29 271.77 L353.46 271.27 L356.63 270.78 L359.80 270.30"/><path d="M89.40 397.50 L90.40 395.32 L91.40 393.22 L92.40 391.19 L93.40 389.24 L94.40 387.35 L95.40 385.52 L96.40 383.76 L97.40 382.05 L98.40 380.40 L99.40 378.80 L100.40 377.25 L101.40 375.74 L102.40 374.28 L103.40 372.87 L104.40 371.49 L105.40 370.15 L106.40 368.85 L107.40 367.59 L108.40 366.36 L109.40 365.16 L112.88 361.23 L116.35 357.62 L119.83 354.31 L123.30 351.24 L126.78 348.39 L130.26 345.74 L133.73 343.26 L137.21 340.94 L140.68 338.76 L144.16 336.70 L147.64 334.76 L151.11 332.92 L154.59 331.18 L158.06 329.52 L161.54 327.94 L165.02 326.44 L168.49 325.00 L171.97 323.62 L175.44 322.29 L178.92 321.02 L182.39 319.80 L185.87 318.63 L189.35 317.49 L192.82 316.40 L196.30 315.34 L199.77 314.31 L203.25 313.32 L206.73 312.36 L210.20 311.42 L213.68 310.52 L217.15 309.63 L220.63 308.78 L224.11 307.94 L227.58 307.12 L231.06 306.33 L234.53 305.55 L238.01 304.79 L241.49 304.05 L244.96 303.32 L248.44 302.61 L251.91 301.92 L255.39 301.23 L258.87 300.57 L262.34 299.91 L265.82 299.26 L269.29 298.63 L272.77 298.01 L276.25 297.40 L279.72 296.80 L283.20 296.20 L286.67 295.62 L290.15 295.05 L293.63 294.48 L297.10 293.92 L300.58 293.37 L304.05 292.83 L307.53 292.30 L311.01 291.77 L314.48 291.25 L317.96 290.73 L321.43 290.22 L324.91 289.72 L328.38 289.22 L331.86 288.73 L335.34 288.24 L338.81 287.76 L342.29 287.28 L345.76 286.81 L349.24 286.35 L352.72 285.88 L356.19 285.43 L359.67 284.97 L363.14 284.52 L366.62 284.08 L370.10 283.63 L373.57 283.19 L377.05 282.76 L380.52 282.33 L384.00 281.90"/><path d="M89.40 397.50 L90.40 395.61 L91.40 393.76 L92.40 391.96 L93.40 390.21 L94.40 388.51 L95.40 386.84 L96.40 385.22 L97.40 383.63 L98.40 382.08 L99.40 380.57 L100.40 379.10 L101.40 377.65 L102.40 376.25 L103.40 374.87 L104.40 373.52 L105.40 372.21 L106.40 370.92 L107.40 369.66 L108.40 368.42 L109.40 367.22 L111.95 364.25 L114.50 361.43 L117.05 358.76 L119.60 356.22 L122.15 353.79 L124.70 351.48 L127.25 349.27 L129.79 347.16 L132.34 345.14 L134.89 343.21 L137.44 341.36 L139.99 339.58 L142.54 337.88 L145.09 336.24 L147.64 334.66 L150.19 333.14 L152.74 331.68 L155.29 330.27 L157.84 328.91 L160.39 327.60 L162.94 326.34 L165.49 325.11 L168.04 323.93 L170.58 322.79 L173.13 321.68 L175.68 320.61 L178.23 319.57 L180.78 318.56 L183.33 317.59 L185.88 316.64 L188.43 315.72 L190.98 314.83 L193.53 313.96 L196.08 313.12 L198.63 312.30 L201.18 311.50 L203.73 310.72 L206.28 309.97 L208.83 309.23 L211.37 308.52 L213.92 307.82 L216.47 307.14 L219.02 306.48 L221.57 305.83 L224.12 305.20 L226.67 304.58 L229.22 303.98 L231.77 303.39 L234.32 302.82 L236.87 302.26 L239.42 301.71 L241.97 301.18 L244.52 300.65 L247.07 300.14 L249.62 299.64 L252.16 299.15 L254.71 298.67 L257.26 298.20 L259.81 297.74 L262.36 297.29 L264.91 296.85 L267.46 296.41 L270.01 295.99 L272.56 295.57 L275.11 295.17 L277.66 294.77 L280.21 294.38 L282.76 293.99 L285.31 293.61 L287.86 293.24 L290.41 292.88 L292.95 292.52 L295.50 292.17 L298.05 291.83 L300.60 291.49 L303.15 291.16 L305.70 290.83 L308.25 290.51 L310.80 290.20"/><path d="M89.40 397.50 L90.40 395.58 L91.40 393.73 L92.40 391.93 L93.40 390.19 L94.40 388.50 L95.40 386.86 L96.40 385.27 L97.40 383.72 L98.40 382.21 L99.40 380.75 L100.40 379.33 L101.40 377.94 L102.40 376.59 L103.40 375.28 L104.40 374.00 L105.40 372.75 L106.40 371.53 L107.40 370.35 L108.40 369.19 L109.40 368.06 L112.86 364.34 L116.33 360.90 L119.79 357.70 L123.25 354.73 L126.72 351.95 L130.18 349.34 L133.64 346.89 L137.11 344.59 L140.57 342.41 L144.03 340.35 L147.50 338.40 L150.96 336.54 L154.42 334.77 L157.89 333.09 L161.35 331.48 L164.81 329.94 L168.28 328.46 L171.74 327.04 L175.20 325.68 L178.67 324.37 L182.13 323.11 L185.59 321.89 L189.06 320.72 L192.52 319.58 L195.98 318.48 L199.45 317.41 L202.91 316.38 L206.37 315.38 L209.84 314.40 L213.30 313.45 L216.76 312.53 L220.23 311.63 L223.69 310.76 L227.15 309.90 L230.62 309.07 L234.08 308.26 L237.54 307.46 L241.01 306.68 L244.47 305.92 L247.93 305.18 L251.39 304.45 L254.86 303.73 L258.32 303.03 L261.78 302.34 L265.25 301.66 L268.71 301.00 L272.17 300.35 L275.64 299.70 L279.10 299.07 L282.56 298.45 L286.03 297.84 L289.49 297.24 L292.95 296.64 L296.42 296.06 L299.88 295.48 L303.34 294.92 L306.81 294.35 L310.27 293.80 L313.73 293.25 L317.20 292.72 L320.66 292.18 L324.12 291.66 L327.59 291.14 L331.05 290.62 L334.51 290.11 L337.98 289.61 L341.44 289.11 L344.90 288.62 L348.37 288.13 L351.83 287.65 L355.29 287.17 L358.76 286.70 L362.22 286.23 L365.68 285.76 L369.15 285.30 L372.61 284.85 L376.07 284.39 L379.54 283.95 L383.00 283.50"/><path d="M89.40 397.50 L90.40 395.69 L91.40 393.94 L92.40 392.23 L93.40 390.57 L94.40 388.95 L95.40 387.38 L96.40 385.85 L97.40 384.36 L98.40 382.90 L99.40 381.49 L100.40 380.11 L101.40 378.76 L102.40 377.45 L103.40 376.16 L104.40 374.91 L105.40 373.69 L106.40 372.50 L107.40 371.33 L108.40 370.19 L109.40 369.07 L111.46 366.86 L113.51 364.74 L115.57 362.72 L117.62 360.78 L119.68 358.92 L121.73 357.13 L123.79 355.42 L125.85 353.78 L127.90 352.19 L129.96 350.67 L132.01 349.20 L134.07 347.79 L136.12 346.42 L138.18 345.11 L140.24 343.83 L142.29 342.60 L144.35 341.42 L146.40 340.27 L148.46 339.16 L150.51 338.08 L152.57 337.03 L154.63 336.02 L156.68 335.04 L158.74 334.09 L160.79 333.17 L162.85 332.27 L164.90 331.40 L166.96 330.55 L169.02 329.72 L171.07 328.92 L173.13 328.14 L175.18 327.38 L177.24 326.64 L179.29 325.92 L181.35 325.22 L183.41 324.54 L185.46 323.87 L187.52 323.22 L189.57 322.58 L191.63 321.96 L193.68 321.36 L195.74 320.77 L197.79 320.19 L199.85 319.63 L201.91 319.08 L203.96 318.54 L206.02 318.01 L208.07 317.50 L210.13 316.99 L212.18 316.50 L214.24 316.02 L216.30 315.54 L218.35 315.08 L220.41 314.63 L222.46 314.18 L224.52 313.75 L226.57 313.32 L228.63 312.90 L230.69 312.49 L232.74 312.09 L234.80 311.70 L236.85 311.31 L238.91 310.93 L240.96 310.56 L243.02 310.19 L245.08 309.83 L247.13 309.48 L249.19 309.13 L251.24 308.79 L253.30 308.46 L255.35 308.13 L257.41 307.81 L259.47 307.49 L261.52 307.18 L263.58 306.87 L265.63 306.57 L267.69 306.28 L269.74 305.99 L271.80 305.70"/><path d="M89.40 397.50 L90.40 395.74 L91.40 394.02 L92.40 392.36 L93.40 390.73 L94.40 389.16 L95.40 387.62 L96.40 386.12 L97.40 384.66 L98.40 383.24 L99.40 381.85 L100.40 380.50 L101.40 379.18 L102.40 377.89 L103.40 376.63 L104.40 375.41 L105.40 374.21 L106.40 373.04 L107.40 371.89 L108.40 370.77 L109.40 369.68 L111.45 367.51 L113.50 365.43 L115.56 363.44 L117.61 361.54 L119.66 359.71 L121.71 357.95 L123.76 356.27 L125.82 354.65 L127.87 353.09 L129.92 351.59 L131.97 350.14 L134.02 348.75 L136.07 347.40 L138.13 346.10 L140.18 344.85 L142.23 343.63 L144.28 342.46 L146.33 341.33 L148.39 340.23 L150.44 339.16 L152.49 338.13 L154.54 337.13 L156.59 336.16 L158.65 335.21 L160.70 334.30 L162.75 333.41 L164.80 332.55 L166.85 331.71 L168.91 330.89 L170.96 330.10 L173.01 329.32 L175.06 328.57 L177.11 327.84 L179.16 327.12 L181.22 326.43 L183.27 325.75 L185.32 325.08 L187.37 324.44 L189.42 323.81 L191.48 323.19 L193.53 322.59 L195.58 322.00 L197.63 321.43 L199.68 320.87 L201.74 320.32 L203.79 319.79 L205.84 319.26 L207.89 318.75 L209.94 318.25 L211.99 317.76 L214.05 317.28 L216.10 316.81 L218.15 316.35 L220.20 315.90 L222.25 315.45 L224.31 315.02 L226.36 314.60 L228.41 314.18 L230.46 313.77 L232.51 313.37 L234.57 312.98 L236.62 312.59 L238.67 312.21 L240.72 311.84 L242.77 311.48 L244.83 311.12 L246.88 310.77 L248.93 310.42 L250.98 310.09 L253.03 309.75 L255.08 309.43 L257.14 309.10 L259.19 308.79 L261.24 308.48 L263.29 308.17 L265.34 307.87 L267.40 307.58 L269.45 307.29 L271.50 307.00"/><path d="M89.40 397.50 L90.40 395.72 L91.40 393.99 L92.40 392.32 L93.40 390.69 L94.40 389.12 L95.40 387.59 L96.40 386.11 L97.40 384.67 L98.40 383.27 L99.40 381.90 L100.40 380.58 L101.40 379.29 L102.40 378.04 L103.40 376.81 L104.40 375.62 L105.40 374.46 L106.40 373.34 L107.40 372.23 L108.40 371.16 L109.40 370.11 L111.06 368.43 L112.72 366.81 L114.37 365.25 L116.03 363.76 L117.69 362.31 L119.35 360.92 L121.01 359.58 L122.67 358.29 L124.32 357.04 L125.98 355.83 L127.64 354.66 L129.30 353.53 L130.96 352.44 L132.62 351.38 L134.27 350.35 L135.93 349.36 L137.59 348.39 L139.25 347.45 L140.91 346.55 L142.56 345.66 L144.22 344.80 L145.88 343.97 L147.54 343.16 L149.20 342.37 L150.86 341.60 L152.51 340.86 L154.17 340.13 L155.83 339.42 L157.49 338.73 L159.15 338.05 L160.81 337.40 L162.46 336.76 L164.12 336.13 L165.78 335.52 L167.44 334.93 L169.10 334.34 L170.75 333.78 L172.41 333.22 L174.07 332.68 L175.73 332.15 L177.39 331.63 L179.05 331.12 L180.70 330.63 L182.36 330.14 L184.02 329.66 L185.68 329.20 L187.34 328.74 L188.99 328.30 L190.65 327.86 L192.31 327.43 L193.97 327.01 L195.63 326.60 L197.29 326.19 L198.94 325.80 L200.60 325.41 L202.26 325.03 L203.92 324.65 L205.58 324.29 L207.24 323.93 L208.89 323.57 L210.55 323.23 L212.21 322.88 L213.87 322.55 L215.53 322.22 L217.18 321.90 L218.84 321.58 L220.50 321.27 L222.16 320.96 L223.82 320.66 L225.48 320.36 L227.13 320.07 L228.79 319.78 L230.45 319.50 L232.11 319.22 L233.77 318.95 L235.43 318.68 L237.08 318.42 L238.74 318.16 L240.40 317.90"/><path d="M89.40 397.50 L90.40 395.94 L91.40 394.42 L92.40 392.95 L93.40 391.51 L94.40 390.12 L95.40 388.76 L96.40 387.43 L97.40 386.14 L98.40 384.88 L99.40 383.65 L100.40 382.45 L101.40 381.27 L102.40 380.13 L103.40 379.01 L104.40 377.91 L105.40 376.84 L106.40 375.79 L107.40 374.77 L108.40 373.76 L109.40 372.78 L111.94 370.36 L114.48 368.06 L117.02 365.87 L119.56 363.78 L122.10 361.78 L124.64 359.85 L127.17 358.01 L129.71 356.23 L132.25 354.52 L134.79 352.88 L137.33 351.28 L139.87 349.74 L142.41 348.25 L144.95 346.81 L147.49 345.41 L150.03 344.04 L152.57 342.72 L155.11 341.43 L157.65 340.18 L160.18 338.96 L162.72 337.76 L165.26 336.60 L167.80 335.46 L170.34 334.35 L172.88 333.26 L175.42 332.19 L177.96 331.14 L180.50 330.12 L183.04 329.11 L185.58 328.13 L188.12 327.16 L190.66 326.20 L193.19 325.27 L195.73 324.35 L198.27 323.44 L200.81 322.55 L203.35 321.67 L205.89 320.80 L208.43 319.95 L210.97 319.10 L213.51 318.27 L216.05 317.45 L218.59 316.64 L221.13 315.84 L223.67 315.05 L226.21 314.27 L228.74 313.49 L231.28 312.73 L233.82 311.97 L236.36 311.22 L238.90 310.48 L241.44 309.75 L243.98 309.02 L246.52 308.30 L249.06 307.59 L251.60 306.89 L254.14 306.19 L256.68 305.49 L259.22 304.80 L261.75 304.12 L264.29 303.44 L266.83 302.77 L269.37 302.10 L271.91 301.44 L274.45 300.78 L276.99 300.13 L279.53 299.48 L282.07 298.84 L284.61 298.20 L287.15 297.56 L289.69 296.93 L292.23 296.30 L294.76 295.67 L297.30 295.05 L299.84 294.44 L302.38 293.82 L304.92 293.21 L307.46 292.60 L310.00 292.00"/><path d="M89.40 397.50 L90.40 396.11 L91.40 394.77 L92.40 393.46 L93.40 392.19 L94.40 390.96 L95.40 389.77 L96.40 388.60 L97.40 387.47 L98.40 386.37 L99.40 385.31 L100.40 384.27 L101.40 383.25 L102.40 382.27 L103.40 381.30 L104.40 380.37 L105.40 379.45 L106.40 378.56 L107.40 377.69 L108.40 376.84 L109.40 376.02 L111.80 374.11 L114.20 372.30 L116.60 370.59 L119.01 368.96 L121.41 367.42 L123.81 365.95 L126.21 364.56 L128.61 363.23 L131.01 361.95 L133.41 360.74 L135.81 359.58 L138.22 358.46 L140.62 357.40 L143.02 356.38 L145.42 355.39 L147.82 354.45 L150.22 353.54 L152.62 352.67 L155.02 351.83 L157.43 351.02 L159.83 350.24 L162.23 349.49 L164.63 348.76 L167.03 348.06 L169.43 347.38 L171.83 346.72 L174.23 346.08 L176.64 345.47 L179.04 344.87 L181.44 344.29 L183.84 343.73 L186.24 343.19 L188.64 342.66 L191.04 342.15 L193.44 341.65 L195.85 341.17 L198.25 340.70 L200.65 340.24 L203.05 339.80 L205.45 339.36 L207.85 338.94 L210.25 338.53 L212.65 338.13 L215.06 337.74 L217.46 337.36 L219.86 336.99 L222.26 336.63 L224.66 336.27 L227.06 335.93 L229.46 335.59 L231.86 335.26 L234.27 334.94 L236.67 334.63 L239.07 334.32 L241.47 334.02 L243.87 333.73 L246.27 333.44 L248.67 333.16 L251.07 332.89 L253.48 332.62 L255.88 332.35 L258.28 332.09 L260.68 331.84 L263.08 331.59 L265.48 331.35 L267.88 331.11 L270.28 330.88 L272.69 330.65 L275.09 330.43 L277.49 330.21 L279.89 329.99 L282.29 329.78 L284.69 329.57 L287.09 329.37 L289.49 329.17 L291.90 328.97 L294.30 328.78 L296.70 328.59 L299.10 328.40"/><path d="M89.40 397.50 L90.40 396.06 L91.40 394.67 L92.40 393.32 L93.40 392.00 L94.40 390.73 L95.40 389.49 L96.40 388.28 L97.40 387.11 L98.40 385.97 L99.40 384.86 L100.40 383.78 L101.40 382.73 L102.40 381.70 L103.40 380.70 L104.40 379.73 L105.40 378.78 L106.40 377.85 L107.40 376.95 L108.40 376.06 L109.40 375.20 L111.03 373.84 L112.67 372.52 L114.30 371.26 L115.93 370.04 L117.56 368.86 L119.20 367.72 L120.83 366.62 L122.46 365.56 L124.10 364.53 L125.73 363.54 L127.36 362.57 L128.99 361.64 L130.63 360.74 L132.26 359.86 L133.89 359.01 L135.53 358.18 L137.16 357.38 L138.79 356.60 L140.43 355.85 L142.06 355.11 L143.69 354.40 L145.32 353.70 L146.96 353.02 L148.59 352.36 L150.22 351.72 L151.86 351.10 L153.49 350.49 L155.12 349.89 L156.75 349.31 L158.39 348.74 L160.02 348.19 L161.65 347.65 L163.29 347.13 L164.92 346.61 L166.55 346.11 L168.18 345.62 L169.82 345.14 L171.45 344.67 L173.08 344.21 L174.72 343.76 L176.35 343.32 L177.98 342.89 L179.62 342.47 L181.25 342.06 L182.88 341.66 L184.51 341.26 L186.15 340.87 L187.78 340.49 L189.41 340.12 L191.05 339.76 L192.68 339.40 L194.31 339.05 L195.94 338.70 L197.58 338.37 L199.21 338.03 L200.84 337.71 L202.48 337.39 L204.11 337.08 L205.74 336.77 L207.37 336.47 L209.01 336.17 L210.64 335.88 L212.27 335.59 L213.91 335.31 L215.54 335.03 L217.17 334.76 L218.81 334.49 L220.44 334.23 L222.07 333.97 L223.70 333.72 L225.34 333.47 L226.97 333.22 L228.60 332.98 L230.24 332.74 L231.87 332.50 L233.50 332.27 L235.13 332.04 L236.77 331.82 L238.40 331.60"/><path d="M89.40 397.50 L90.40 396.31 L91.40 395.15 L92.40 394.02 L93.40 392.91 L94.40 391.84 L95.40 390.78 L96.40 389.76 L97.40 388.76 L98.40 387.78 L99.40 386.82 L100.40 385.89 L101.40 384.97 L102.40 384.08 L103.40 383.21 L104.40 382.35 L105.40 381.51 L106.40 380.70 L107.40 379.89 L108.40 379.11 L109.40 378.34 L111.80 376.56 L114.20 374.86 L116.60 373.24 L119.00 371.70 L121.40 370.22 L123.80 368.80 L126.20 367.45 L128.60 366.15 L131.00 364.90 L133.40 363.70 L135.80 362.55 L138.20 361.45 L140.60 360.38 L143.00 359.35 L145.40 358.37 L147.80 357.41 L150.20 356.49 L152.60 355.60 L155.00 354.74 L157.40 353.91 L159.80 353.11 L162.20 352.33 L164.60 351.57 L167.00 350.84 L169.40 350.13 L171.80 349.45 L174.20 348.78 L176.60 348.13 L179.00 347.51 L181.40 346.90 L183.80 346.30 L186.20 345.72 L188.60 345.16 L191.00 344.62 L193.40 344.09 L195.80 343.57 L198.20 343.06 L200.60 342.57 L203.00 342.09 L205.40 341.62 L207.80 341.17 L210.20 340.72 L212.60 340.29 L215.00 339.87 L217.40 339.45 L219.80 339.05 L222.20 338.65 L224.60 338.27 L227.00 337.89 L229.40 337.52 L231.80 337.16 L234.20 336.80 L236.60 336.46 L239.00 336.12 L241.40 335.79 L243.80 335.46 L246.20 335.15 L248.60 334.83 L251.00 334.53 L253.40 334.23 L255.80 333.94 L258.20 333.65 L260.60 333.37 L263.00 333.09 L265.40 332.82 L267.80 332.55 L270.20 332.29 L272.60 332.04 L275.00 331.79 L277.40 331.54 L279.80 331.30 L282.20 331.06 L284.60 330.82 L287.00 330.59 L289.40 330.37 L291.80 330.14 L294.20 329.93 L296.60 329.71 L299.00 329.50"/><path d="M89.40 397.50 L90.40 396.72 L91.40 395.97 L92.40 395.22 L93.40 394.50 L94.40 393.79 L95.40 393.09 L96.40 392.41 L97.40 391.74 L98.40 391.09 L99.40 390.45 L100.40 389.82 L101.40 389.20 L102.40 388.60 L103.40 388.01 L104.40 387.43 L105.40 386.86 L106.40 386.30 L107.40 385.75 L108.40 385.21 L109.40 384.68 L112.64 383.03 L115.88 381.48 L119.12 380.01 L122.36 378.61 L125.60 377.29 L128.84 376.03 L132.08 374.84 L135.32 373.70 L138.56 372.62 L141.81 371.58 L145.05 370.60 L148.29 369.65 L151.53 368.75 L154.77 367.88 L158.01 367.05 L161.25 366.25 L164.49 365.48 L167.73 364.75 L170.97 364.04 L174.21 363.35 L177.45 362.70 L180.69 362.06 L183.93 361.45 L187.17 360.86 L190.41 360.29 L193.65 359.74 L196.89 359.20 L200.13 358.69 L203.37 358.19 L206.62 357.70 L209.86 357.24 L213.10 356.78 L216.34 356.34 L219.58 355.91 L222.82 355.50 L226.06 355.09 L229.30 354.70 L232.54 354.32 L235.78 353.95 L239.02 353.59 L242.26 353.23 L245.50 352.89 L248.74 352.56 L251.98 352.23 L255.22 351.92 L258.46 351.61 L261.70 351.31 L264.94 351.02 L268.18 350.73 L271.43 350.45 L274.67 350.18 L277.91 349.91 L281.15 349.65 L284.39 349.40 L287.63 349.15 L290.87 348.90 L294.11 348.67 L297.35 348.43 L300.59 348.21 L303.83 347.98 L307.07 347.76 L310.31 347.55 L313.55 347.34 L316.79 347.14 L320.03 346.94 L323.27 346.74 L326.51 346.55 L329.75 346.36 L332.99 346.17 L336.24 345.99 L339.48 345.81 L342.72 345.64 L345.96 345.47 L349.20 345.30 L352.44 345.13 L355.68 344.97 L358.92 344.81 L362.16 344.65 L365.40 344.50"/><path d="M89.40 397.50 L90.40 395.10 L91.40 392.80 L92.40 390.59 L93.40 388.47 L94.40 386.43 L95.40 384.47 L96.40 382.58 L97.40 380.75 L98.40 378.99 L99.40 377.28 L100.40 375.63 L101.40 374.03 L102.40 372.48 L103.40 370.98 L104.40 369.52 L105.40 368.10 L106.40 366.72 L107.40 365.38 L108.40 364.07 L109.40 362.80 L110.36 361.61 L111.31 360.45 L112.27 359.32 L113.23 358.21 L114.18 357.12 L115.14 356.06 L116.10 355.02 L117.06 354.00 L118.01 353.01 L118.97 352.03 L119.93 351.07 L120.88 350.13 L121.84 349.20 L122.80 348.30 L123.75 347.40 L124.71 346.53 L125.67 345.66 L126.63 344.82 L127.58 343.98 L128.54 343.16 L129.50 342.35 L130.45 341.56 L131.41 340.77 L132.37 340.00 L133.32 339.24 L134.28 338.49 L135.24 337.75 L136.19 337.02 L137.15 336.30 L138.11 335.58 L139.07 334.88 L140.02 334.19 L140.98 333.50 L141.94 332.82 L142.89 332.15 L143.85 331.49 L144.81 330.84 L145.76 330.19 L146.72 329.55 L147.68 328.92 L148.64 328.29 L149.59 327.67 L150.55 327.06 L151.51 326.45 L152.46 325.85 L153.42 325.25 L154.38 324.66 L155.33 324.08 L156.29 323.50 L157.25 322.92 L158.21 322.35 L159.16 321.79 L160.12 321.23 L161.08 320.67 L162.03 320.12 L162.99 319.57 L163.95 319.03 L164.90 318.49 L165.86 317.96 L166.82 317.43 L167.77 316.90 L168.73 316.38 L169.69 315.86 L170.65 315.35 L171.60 314.83 L172.56 314.33 L173.52 313.82 L174.47 313.32 L175.43 312.82 L176.39 312.33 L177.34 311.83 L178.30 311.34 L179.26 310.86 L180.22 310.38 L181.17 309.89 L182.13 309.42 L183.09 308.94 L184.04 308.47 L185.00 308.00"/><path d="M89.40 397.50 L90.40 395.59 L91.40 393.73 L92.40 391.93 L93.40 390.18 L94.40 388.48 L95.40 386.83 L96.40 385.22 L97.40 383.66 L98.40 382.14 L99.40 380.66 L100.40 379.22 L101.40 377.82 L102.40 376.46 L103.40 375.13 L104.40 373.83 L105.40 372.57 L106.40 371.33 L107.40 370.13 L108.40 368.95 L109.40 367.81 L110.42 366.66 L111.44 365.55 L112.46 364.46 L113.48 363.39 L114.50 362.35 L115.52 361.33 L116.54 360.34 L117.56 359.37 L118.58 358.41 L119.60 357.48 L120.62 356.57 L121.64 355.68 L122.66 354.81 L123.68 353.95 L124.70 353.11 L125.72 352.29 L126.74 351.49 L127.76 350.70 L128.78 349.92 L129.81 349.16 L130.83 348.42 L131.85 347.69 L132.87 346.98 L133.89 346.27 L134.91 345.58 L135.93 344.91 L136.95 344.24 L137.97 343.59 L138.99 342.95 L140.01 342.32 L141.03 341.70 L142.05 341.09 L143.07 340.50 L144.09 339.91 L145.11 339.33 L146.13 338.77 L147.15 338.21 L148.17 337.66 L149.19 337.12 L150.21 336.59 L151.23 336.07 L152.25 335.55 L153.27 335.05 L154.29 334.55 L155.31 334.06 L156.33 333.58 L157.35 333.10 L158.37 332.63 L159.39 332.17 L160.41 331.72 L161.43 331.27 L162.45 330.83 L163.47 330.40 L164.49 329.97 L165.51 329.55 L166.53 329.13 L167.55 328.73 L168.57 328.32 L169.59 327.92 L170.62 327.53 L171.64 327.15 L172.66 326.76 L173.68 326.39 L174.70 326.02 L175.72 325.65 L176.74 325.29 L177.76 324.93 L178.78 324.58 L179.80 324.23 L180.82 323.89 L181.84 323.55 L182.86 323.22 L183.88 322.89 L184.90 322.57 L185.92 322.24 L186.94 321.93 L187.96 321.61 L188.98 321.31 L190.00 321.00"/><path d="M89.40 397.50 L90.40 395.93 L91.40 394.41 L92.40 392.93 L93.40 391.49 L94.40 390.09 L95.40 388.73 L96.40 387.40 L97.40 386.10 L98.40 384.84 L99.40 383.61 L100.40 382.41 L101.40 381.24 L102.40 380.10 L103.40 378.99 L104.40 377.90 L105.40 376.84 L106.40 375.80 L107.40 374.79 L108.40 373.79 L109.40 372.83 L110.29 371.98 L111.19 371.15 L112.08 370.33 L112.97 369.53 L113.87 368.75 L114.76 367.98 L115.66 367.22 L116.55 366.48 L117.44 365.75 L118.34 365.04 L119.23 364.34 L120.12 363.65 L121.02 362.97 L121.91 362.31 L122.81 361.65 L123.70 361.01 L124.59 360.38 L125.49 359.76 L126.38 359.15 L127.27 358.55 L128.17 357.96 L129.06 357.38 L129.95 356.81 L130.85 356.25 L131.74 355.69 L132.64 355.15 L133.53 354.61 L134.42 354.09 L135.32 353.57 L136.21 353.06 L137.10 352.55 L138.00 352.06 L138.89 351.57 L139.78 351.09 L140.68 350.61 L141.57 350.15 L142.47 349.69 L143.36 349.23 L144.25 348.79 L145.15 348.35 L146.04 347.91 L146.93 347.48 L147.83 347.06 L148.72 346.65 L149.62 346.23 L150.51 345.83 L151.40 345.43 L152.30 345.04 L153.19 344.65 L154.08 344.26 L154.98 343.88 L155.87 343.51 L156.76 343.14 L157.66 342.78 L158.55 342.42 L159.45 342.06 L160.34 341.71 L161.23 341.37 L162.13 341.03 L163.02 340.69 L163.91 340.36 L164.81 340.03 L165.70 339.70 L166.59 339.38 L167.49 339.07 L168.38 338.75 L169.28 338.44 L170.17 338.14 L171.06 337.84 L171.96 337.54 L172.85 337.24 L173.74 336.95 L174.64 336.66 L175.53 336.38 L176.43 336.10 L177.32 335.82 L178.21 335.54 L179.11 335.27 L180.00 335.00"/><path d="M89.40 397.50 L90.40 396.08 L91.40 394.70 L92.40 393.36 L93.40 392.05 L94.40 390.77 L95.40 389.53 L96.40 388.31 L97.40 387.13 L98.40 385.97 L99.40 384.84 L100.40 383.74 L101.40 382.66 L102.40 381.61 L103.40 380.59 L104.40 379.58 L105.40 378.60 L106.40 377.64 L107.40 376.70 L108.40 375.78 L109.40 374.88 L110.23 374.15 L111.06 373.43 L111.89 372.72 L112.72 372.02 L113.55 371.34 L114.38 370.67 L115.21 370.01 L116.04 369.36 L116.87 368.72 L117.70 368.09 L118.53 367.47 L119.36 366.86 L120.19 366.26 L121.03 365.67 L121.86 365.09 L122.69 364.52 L123.52 363.96 L124.35 363.40 L125.18 362.86 L126.01 362.32 L126.84 361.79 L127.67 361.27 L128.50 360.75 L129.33 360.25 L130.16 359.75 L130.99 359.25 L131.82 358.77 L132.65 358.29 L133.48 357.82 L134.31 357.35 L135.14 356.90 L135.97 356.44 L136.80 356.00 L137.63 355.56 L138.46 355.12 L139.29 354.69 L140.12 354.27 L140.95 353.86 L141.78 353.44 L142.62 353.04 L143.45 352.64 L144.28 352.24 L145.11 351.85 L145.94 351.47 L146.77 351.08 L147.60 350.71 L148.43 350.34 L149.26 349.97 L150.09 349.61 L150.92 349.25 L151.75 348.90 L152.58 348.55 L153.41 348.20 L154.24 347.86 L155.07 347.53 L155.90 347.19 L156.73 346.87 L157.56 346.54 L158.39 346.22 L159.22 345.90 L160.05 345.59 L160.88 345.28 L161.71 344.97 L162.54 344.67 L163.37 344.37 L164.21 344.07 L165.04 343.78 L165.87 343.49 L166.70 343.20 L167.53 342.92 L168.36 342.64 L169.19 342.36 L170.02 342.09 L170.85 341.82 L171.68 341.55 L172.51 341.28 L173.34 341.02 L174.17 340.76 L175.00 340.50"/></g><g fill="none" stroke="#e57c75" stroke-width="1.20" stroke-linejoin="round" stroke-linecap="round" stroke-opacity="0.90"><path d="M89.40 397.50 L90.40 394.83 L91.40 391.83 L92.40 388.70 L93.40 385.52 L94.40 382.30 L95.40 379.07 L96.40 375.83 L97.40 372.60 L98.40 369.38 L99.40 366.17 L100.40 362.99 L101.40 359.82 L102.40 356.68 L103.40 353.57 L104.40 350.48 L105.40 347.42 L106.40 344.39 L107.40 341.39 L108.40 338.42 L109.40 335.48 L113.54 323.65 L117.69 312.36 L121.83 301.61 L125.97 291.38 L130.12 281.64 L134.26 272.38 L138.40 263.57 L142.54 255.17 L146.69 247.18 L150.83 239.56 L154.97 232.29 L159.12 225.36 L163.26 218.74 L167.40 212.41 L171.55 206.36 L175.69 200.56 L179.83 195.02 L183.97 189.70 L188.12 184.61 L192.26 179.72 L196.40 175.02 L200.55 170.51 L204.69 166.17 L208.83 162.00 L212.98 157.98 L217.12 154.11 L221.26 150.38 L225.41 146.78 L229.55 143.31 L233.69 139.96 L237.83 136.73 L241.98 133.60 L246.12 130.58 L250.26 127.65 L254.41 124.82 L258.55 122.08 L262.69 119.43 L266.84 116.86 L270.98 114.36 L275.12 111.95 L279.26 109.60 L283.41 107.32 L287.55 105.11 L291.69 102.96 L295.84 100.87 L299.98 98.84 L304.12 96.87 L308.27 94.95 L312.41 93.08 L316.55 91.26 L320.69 89.49 L324.84 87.77 L328.98 86.08 L333.12 84.45 L337.27 82.85 L341.41 81.29 L345.55 79.77 L349.70 78.29 L353.84 76.84 L357.98 75.43 L362.13 74.05 L366.27 72.70 L370.41 71.38 L374.55 70.10 L378.70 68.84 L382.84 67.61 L386.98 66.40 L391.13 65.23 L395.27 64.08 L399.41 62.95 L403.56 61.85 L407.70 60.77 L411.84 59.71 L415.98 58.67 L420.13 57.66 L424.27 56.67 L428.41 55.69 L432.56 54.74 L436.70 53.80"/><path d="M89.40 397.50 L90.40 394.94 L91.40 392.04 L92.40 389.04 L93.40 385.98 L94.40 382.89 L95.40 379.79 L96.40 376.69 L97.40 373.59 L98.40 370.50 L99.40 367.43 L100.40 364.38 L101.40 361.35 L102.40 358.35 L103.40 355.37 L104.40 352.42 L105.40 349.50 L106.40 346.61 L107.40 343.74 L108.40 340.91 L109.40 338.11 L113.54 326.84 L117.69 316.10 L121.83 305.89 L125.97 296.19 L130.12 286.97 L134.26 278.21 L138.40 269.89 L142.54 261.97 L146.69 254.44 L150.83 247.27 L154.97 240.44 L159.12 233.92 L163.26 227.71 L167.40 221.78 L171.55 216.11 L175.69 210.69 L179.83 205.50 L183.97 200.54 L188.12 195.78 L192.26 191.22 L196.40 186.84 L200.55 182.63 L204.69 178.59 L208.83 174.71 L212.98 170.97 L217.12 167.37 L221.26 163.91 L225.41 160.57 L229.55 157.35 L233.69 154.24 L237.83 151.24 L241.98 148.34 L246.12 145.54 L250.26 142.83 L254.41 140.21 L258.55 137.68 L262.69 135.22 L266.84 132.84 L270.98 130.54 L275.12 128.30 L279.26 126.14 L283.41 124.03 L287.55 121.99 L291.69 120.01 L295.84 118.08 L299.98 116.21 L304.12 114.39 L308.27 112.62 L312.41 110.90 L316.55 109.22 L320.69 107.59 L324.84 106.00 L328.98 104.45 L333.12 102.95 L337.27 101.48 L341.41 100.04 L345.55 98.64 L349.70 97.28 L353.84 95.95 L357.98 94.65 L362.13 93.38 L366.27 92.14 L370.41 90.93 L374.55 89.75 L378.70 88.60 L382.84 87.47 L386.98 86.36 L391.13 85.28 L395.27 84.22 L399.41 83.19 L403.56 82.18 L407.70 81.19 L411.84 80.22 L415.98 79.27 L420.13 78.34 L424.27 77.43 L428.41 76.53 L432.56 75.66 L436.70 74.80"/><path d="M89.40 397.50 L90.40 394.33 L91.40 390.81 L92.40 387.21 L93.40 383.60 L94.40 380.01 L95.40 376.47 L96.40 372.98 L97.40 369.55 L98.40 366.19 L99.40 362.89 L100.40 359.67 L101.40 356.52 L102.40 353.44 L103.40 350.43 L104.40 347.49 L105.40 344.61 L106.40 341.81 L107.40 339.07 L108.40 336.40 L109.40 333.80 L112.09 327.08 L114.79 320.78 L117.48 314.87 L120.17 309.32 L122.87 304.10 L125.56 299.19 L128.26 294.56 L130.95 290.20 L133.64 286.07 L136.34 282.18 L139.03 278.49 L141.72 274.99 L144.42 271.67 L147.11 268.52 L149.81 265.52 L152.50 262.67 L155.19 259.95 L157.89 257.36 L160.58 254.88 L163.27 252.52 L165.97 250.25 L168.66 248.09 L171.35 246.02 L174.05 244.03 L176.74 242.12 L179.44 240.29 L182.13 238.53 L184.82 236.84 L187.52 235.21 L190.21 233.65 L192.90 232.14 L195.60 230.69 L198.29 229.28 L200.98 227.93 L203.68 226.62 L206.37 225.36 L209.07 224.14 L211.76 222.96 L214.45 221.81 L217.15 220.71 L219.84 219.64 L222.53 218.60 L225.23 217.59 L227.92 216.62 L230.62 215.67 L233.31 214.75 L236.00 213.86 L238.70 212.99 L241.39 212.15 L244.08 211.33 L246.78 210.53 L249.47 209.76 L252.16 209.01 L254.86 208.27 L257.55 207.56 L260.25 206.86 L262.94 206.18 L265.63 205.52 L268.33 204.88 L271.02 204.25 L273.71 203.63 L276.41 203.04 L279.10 202.45 L281.79 201.88 L284.49 201.32 L287.18 200.78 L289.88 200.25 L292.57 199.73 L295.26 199.22 L297.96 198.72 L300.65 198.24 L303.34 197.76 L306.04 197.29 L308.73 196.84 L311.43 196.39 L314.12 195.96 L316.81 195.53 L319.51 195.11 L322.20 194.70"/><path d="M89.40 397.50 L90.40 395.11 L91.40 392.43 L92.40 389.66 L93.40 386.87 L94.40 384.07 L95.40 381.28 L96.40 378.51 L97.40 375.76 L98.40 373.05 L99.40 370.37 L100.40 367.72 L101.40 365.12 L102.40 362.55 L103.40 360.03 L104.40 357.54 L105.40 355.10 L106.40 352.70 L107.40 350.33 L108.40 348.01 L109.40 345.73 L113.28 337.26 L117.16 329.35 L121.04 321.97 L124.92 315.08 L128.81 308.64 L132.69 302.62 L136.57 296.99 L140.45 291.70 L144.33 286.73 L148.21 282.06 L152.09 277.66 L155.97 273.52 L159.85 269.60 L163.73 265.90 L167.62 262.40 L171.50 259.08 L175.38 255.93 L179.26 252.94 L183.14 250.09 L187.02 247.39 L190.90 244.81 L194.78 242.35 L198.66 240.00 L202.54 237.75 L206.43 235.60 L210.31 233.55 L214.19 231.58 L218.07 229.69 L221.95 227.88 L225.83 226.14 L229.71 224.47 L233.59 222.86 L237.47 221.31 L241.35 219.82 L245.24 218.39 L249.12 217.01 L253.00 215.67 L256.88 214.38 L260.76 213.14 L264.64 211.94 L268.52 210.77 L272.40 209.65 L276.28 208.56 L280.16 207.51 L284.05 206.49 L287.93 205.50 L291.81 204.54 L295.69 203.61 L299.57 202.71 L303.45 201.83 L307.33 200.98 L311.21 200.15 L315.09 199.35 L318.97 198.57 L322.86 197.81 L326.74 197.07 L330.62 196.35 L334.50 195.65 L338.38 194.97 L342.26 194.30 L346.14 193.66 L350.02 193.02 L353.90 192.41 L357.78 191.81 L361.67 191.22 L365.55 190.65 L369.43 190.09 L373.31 189.55 L377.19 189.01 L381.07 188.49 L384.95 187.99 L388.83 187.49 L392.71 187.00 L396.59 186.53 L400.48 186.06 L404.36 185.61 L408.24 185.16 L412.12 184.73 L416.00 184.30"/><path d="M89.40 397.50 L90.40 395.54 L91.40 393.46 L92.40 391.37 L93.40 389.26 L94.40 387.17 L95.40 385.08 L96.40 383.00 L97.40 380.95 L98.40 378.91 L99.40 376.88 L100.40 374.88 L101.40 372.90 L102.40 370.94 L103.40 369.00 L104.40 367.08 L105.40 365.19 L106.40 363.31 L107.40 361.46 L108.40 359.63 L109.40 357.82 L113.55 350.53 L117.69 343.60 L121.84 337.01 L125.99 330.73 L130.13 324.75 L134.28 319.05 L138.43 313.61 L142.57 308.43 L146.72 303.47 L150.87 298.74 L155.02 294.22 L159.16 289.88 L163.31 285.74 L167.46 281.76 L171.60 277.94 L175.75 274.28 L179.90 270.76 L184.04 267.38 L188.19 264.13 L192.34 261.00 L196.48 257.99 L200.63 255.08 L204.78 252.28 L208.92 249.58 L213.07 246.97 L217.22 244.44 L221.36 242.01 L225.51 239.65 L229.66 237.37 L233.81 235.17 L237.95 233.03 L242.10 230.96 L246.25 228.96 L250.39 227.01 L254.54 225.12 L258.69 223.29 L262.83 221.51 L266.98 219.79 L271.13 218.11 L275.27 216.48 L279.42 214.89 L283.57 213.35 L287.71 211.85 L291.86 210.38 L296.01 208.96 L300.15 207.57 L304.30 206.22 L308.45 204.91 L312.59 203.62 L316.74 202.37 L320.89 201.15 L325.04 199.96 L329.18 198.79 L333.33 197.66 L337.48 196.55 L341.62 195.46 L345.77 194.40 L349.92 193.37 L354.06 192.35 L358.21 191.36 L362.36 190.40 L366.50 189.45 L370.65 188.52 L374.80 187.61 L378.94 186.73 L383.09 185.86 L387.24 185.00 L391.38 184.17 L395.53 183.35 L399.68 182.55 L403.83 181.76 L407.97 180.99 L412.12 180.24 L416.27 179.50 L420.41 178.77 L424.56 178.06 L428.71 177.36 L432.85 176.67 L437.00 176.00"/><path d="M89.40 397.50 L90.40 394.91 L91.40 392.03 L92.40 389.08 L93.40 386.12 L94.40 383.16 L95.40 380.23 L96.40 377.34 L97.40 374.50 L98.40 371.70 L99.40 368.95 L100.40 366.26 L101.40 363.62 L102.40 361.03 L103.40 358.50 L104.40 356.02 L105.40 353.60 L106.40 351.23 L107.40 348.91 L108.40 346.64 L109.40 344.42 L111.97 338.93 L114.55 333.74 L117.12 328.85 L119.70 324.22 L122.27 319.84 L124.85 315.69 L127.42 311.76 L130.00 308.04 L132.57 304.50 L135.15 301.14 L137.72 297.95 L140.30 294.91 L142.87 292.01 L145.45 289.25 L148.02 286.61 L150.59 284.09 L153.17 281.68 L155.74 279.37 L158.32 277.17 L160.89 275.05 L163.47 273.02 L166.04 271.08 L168.62 269.21 L171.19 267.41 L173.77 265.68 L176.34 264.02 L178.92 262.41 L181.49 260.87 L184.07 259.38 L186.64 257.95 L189.22 256.56 L191.79 255.22 L194.36 253.93 L196.94 252.68 L199.51 251.47 L202.09 250.30 L204.66 249.17 L207.24 248.07 L209.81 247.01 L212.39 245.98 L214.96 244.98 L217.54 244.01 L220.11 243.06 L222.69 242.15 L225.26 241.26 L227.84 240.40 L230.41 239.56 L232.98 238.74 L235.56 237.95 L238.13 237.18 L240.71 236.42 L243.28 235.69 L245.86 234.98 L248.43 234.28 L251.01 233.60 L253.58 232.94 L256.16 232.30 L258.73 231.67 L261.31 231.06 L263.88 230.46 L266.46 229.87 L269.03 229.30 L271.61 228.74 L274.18 228.20 L276.75 227.66 L279.33 227.14 L281.90 226.63 L284.48 226.14 L287.05 225.65 L289.63 225.17 L292.20 224.70 L294.78 224.25 L297.35 223.80 L299.93 223.36 L302.50 222.93 L305.08 222.51 L307.65 222.10 L310.23 221.70 L312.80 221.30"/><path d="M89.40 397.50 L90.40 395.20 L91.40 392.63 L92.40 389.99 L93.40 387.33 L94.40 384.67 L95.40 382.03 L96.40 379.41 L97.40 376.82 L98.40 374.27 L99.40 371.76 L100.40 369.29 L101.40 366.87 L102.40 364.48 L103.40 362.14 L104.40 359.84 L105.40 357.59 L106.40 355.38 L107.40 353.21 L108.40 351.09 L109.40 349.00 L112.09 343.61 L114.77 338.50 L117.46 333.65 L120.14 329.06 L122.83 324.70 L125.52 320.57 L128.20 316.64 L130.89 312.91 L133.57 309.35 L136.26 305.97 L138.95 302.75 L141.63 299.67 L144.32 296.74 L147.01 293.94 L149.69 291.26 L152.38 288.69 L155.06 286.24 L157.75 283.89 L160.44 281.63 L163.12 279.47 L165.81 277.39 L168.49 275.39 L171.18 273.47 L173.87 271.63 L176.55 269.85 L179.24 268.14 L181.92 266.49 L184.61 264.89 L187.30 263.36 L189.98 261.88 L192.67 260.44 L195.35 259.06 L198.04 257.72 L200.73 256.42 L203.41 255.17 L206.10 253.95 L208.78 252.78 L211.47 251.64 L214.16 250.53 L216.84 249.46 L219.53 248.42 L222.22 247.41 L224.90 246.43 L227.59 245.47 L230.27 244.55 L232.96 243.65 L235.65 242.77 L238.33 241.92 L241.02 241.09 L243.70 240.28 L246.39 239.49 L249.08 238.72 L251.76 237.98 L254.45 237.25 L257.13 236.54 L259.82 235.85 L262.51 235.17 L265.19 234.51 L267.88 233.87 L270.56 233.24 L273.25 232.62 L275.94 232.02 L278.62 231.44 L281.31 230.86 L283.99 230.30 L286.68 229.76 L289.37 229.22 L292.05 228.70 L294.74 228.18 L297.43 227.68 L300.11 227.19 L302.80 226.71 L305.48 226.24 L308.17 225.77 L310.86 225.32 L313.54 224.88 L316.23 224.44 L318.91 224.02 L321.60 223.60"/><path d="M89.40 397.50 L90.40 395.31 L91.40 392.86 L92.40 390.34 L93.40 387.79 L94.40 385.25 L95.40 382.73 L96.40 380.22 L97.40 377.75 L98.40 375.31 L99.40 372.90 L100.40 370.54 L101.40 368.21 L102.40 365.93 L103.40 363.68 L104.40 361.48 L105.40 359.31 L106.40 357.19 L107.40 355.11 L108.40 353.07 L109.40 351.06 L113.55 343.16 L117.69 335.88 L121.84 329.17 L125.99 322.97 L130.13 317.23 L134.28 311.92 L138.43 306.98 L142.57 302.40 L146.72 298.12 L150.87 294.13 L155.02 290.40 L159.16 286.91 L163.31 283.63 L167.46 280.55 L171.60 277.64 L175.75 274.91 L179.90 272.33 L184.04 269.89 L188.19 267.57 L192.34 265.38 L196.48 263.30 L200.63 261.33 L204.78 259.45 L208.92 257.66 L213.07 255.95 L217.22 254.33 L221.36 252.77 L225.51 251.29 L229.66 249.86 L233.81 248.50 L237.95 247.20 L242.10 245.95 L246.25 244.74 L250.39 243.59 L254.54 242.48 L258.69 241.41 L262.83 240.38 L266.98 239.39 L271.13 238.44 L275.27 237.52 L279.42 236.63 L283.57 235.77 L287.71 234.94 L291.86 234.14 L296.01 233.37 L300.15 232.62 L304.30 231.89 L308.45 231.19 L312.59 230.50 L316.74 229.84 L320.89 229.20 L325.04 228.58 L329.18 227.98 L333.33 227.39 L337.48 226.82 L341.62 226.27 L345.77 225.73 L349.92 225.21 L354.06 224.70 L358.21 224.20 L362.36 223.72 L366.50 223.25 L370.65 222.79 L374.80 222.34 L378.94 221.91 L383.09 221.49 L387.24 221.07 L391.38 220.67 L395.53 220.27 L399.68 219.89 L403.83 219.51 L407.97 219.15 L412.12 218.79 L416.27 218.44 L420.41 218.10 L424.56 217.76 L428.71 217.43 L432.85 217.11 L437.00 216.80"/><path d="M89.40 397.50 L90.40 394.18 L91.40 390.52 L92.40 386.81 L93.40 383.13 L94.40 379.51 L95.40 375.96 L96.40 372.50 L97.40 369.13 L98.40 365.85 L99.40 362.67 L100.40 359.58 L101.40 356.59 L102.40 353.68 L103.40 350.86 L104.40 348.13 L105.40 345.49 L106.40 342.92 L107.40 340.43 L108.40 338.02 L109.40 335.68 L110.55 333.07 L111.71 330.55 L112.86 328.11 L114.01 325.76 L115.17 323.48 L116.32 321.28 L117.47 319.16 L118.63 317.10 L119.78 315.10 L120.93 313.17 L122.08 311.30 L123.24 309.49 L124.39 307.73 L125.54 306.03 L126.70 304.37 L127.85 302.77 L129.00 301.21 L130.16 299.70 L131.31 298.23 L132.46 296.80 L133.62 295.41 L134.77 294.06 L135.92 292.74 L137.08 291.47 L138.23 290.22 L139.38 289.01 L140.54 287.83 L141.69 286.68 L142.84 285.56 L143.99 284.47 L145.15 283.40 L146.30 282.37 L147.45 281.35 L148.61 280.36 L149.76 279.40 L150.91 278.46 L152.07 277.54 L153.22 276.64 L154.37 275.76 L155.53 274.90 L156.68 274.06 L157.83 273.25 L158.99 272.44 L160.14 271.66 L161.29 270.89 L162.45 270.14 L163.60 269.41 L164.75 268.69 L165.91 267.98 L167.06 267.29 L168.21 266.62 L169.36 265.96 L170.52 265.31 L171.67 264.67 L172.82 264.05 L173.98 263.44 L175.13 262.84 L176.28 262.25 L177.44 261.68 L178.59 261.11 L179.74 260.56 L180.90 260.01 L182.05 259.48 L183.20 258.95 L184.36 258.44 L185.51 257.93 L186.66 257.43 L187.82 256.95 L188.97 256.47 L190.12 256.00 L191.27 255.53 L192.43 255.08 L193.58 254.63 L194.73 254.19 L195.89 253.76 L197.04 253.33 L198.19 252.92 L199.35 252.50 L200.50 252.10"/><path d="M89.40 397.50 L90.40 394.79 L91.40 391.79 L92.40 388.76 L93.40 385.75 L94.40 382.79 L95.40 379.89 L96.40 377.05 L97.40 374.29 L98.40 371.61 L99.40 369.00 L100.40 366.46 L101.40 364.01 L102.40 361.62 L103.40 359.31 L104.40 357.07 L105.40 354.90 L106.40 352.79 L107.40 350.74 L108.40 348.76 L109.40 346.84 L112.34 341.50 L115.29 336.61 L118.23 332.11 L121.17 327.98 L124.12 324.16 L127.06 320.63 L130.00 317.35 L132.94 314.31 L135.89 311.48 L138.83 308.83 L141.77 306.36 L144.72 304.05 L147.66 301.88 L150.60 299.84 L153.55 297.92 L156.49 296.11 L159.43 294.40 L162.37 292.78 L165.32 291.25 L168.26 289.80 L171.20 288.42 L174.15 287.12 L177.09 285.87 L180.03 284.68 L182.98 283.55 L185.92 282.48 L188.86 281.44 L191.81 280.46 L194.75 279.52 L197.69 278.61 L200.63 277.75 L203.58 276.91 L206.52 276.12 L209.46 275.35 L212.41 274.61 L215.35 273.90 L218.29 273.22 L221.24 272.56 L224.18 271.93 L227.12 271.31 L230.06 270.72 L233.01 270.15 L235.95 269.60 L238.89 269.07 L241.84 268.55 L244.78 268.05 L247.72 267.57 L250.67 267.10 L253.61 266.65 L256.55 266.21 L259.49 265.78 L262.44 265.37 L265.38 264.96 L268.32 264.57 L271.27 264.19 L274.21 263.82 L277.15 263.46 L280.10 263.11 L283.04 262.78 L285.98 262.44 L288.93 262.12 L291.87 261.81 L294.81 261.50 L297.75 261.21 L300.70 260.91 L303.64 260.63 L306.58 260.36 L309.53 260.09 L312.47 259.82 L315.41 259.57 L318.36 259.31 L321.30 259.07 L324.24 258.83 L327.18 258.60 L330.13 258.37 L333.07 258.14 L336.01 257.92 L338.96 257.71 L341.90 257.50"/><path d="M89.40 397.50 L90.40 394.56 L91.40 391.47 L92.40 388.49 L93.40 385.66 L94.40 383.01 L95.40 380.51 L96.40 378.18 L97.40 376.00 L98.40 373.96 L99.40 372.04 L100.40 370.25 L101.40 368.57 L102.40 366.98 L103.40 365.50 L104.40 364.09 L105.40 362.77 L106.40 361.52 L107.40 360.34 L108.40 359.22 L109.40 358.16 L111.27 356.33 L113.13 354.66 L115.00 353.14 L116.86 351.74 L118.73 350.45 L120.59 349.27 L122.46 348.18 L124.33 347.16 L126.19 346.22 L128.06 345.34 L129.92 344.52 L131.79 343.75 L133.66 343.03 L135.52 342.36 L137.39 341.73 L139.25 341.13 L141.12 340.56 L142.98 340.03 L144.85 339.53 L146.72 339.05 L148.58 338.59 L150.45 338.16 L152.31 337.75 L154.18 337.36 L156.05 336.99 L157.91 336.63 L159.78 336.29 L161.64 335.97 L163.51 335.66 L165.37 335.36 L167.24 335.08 L169.11 334.80 L170.97 334.54 L172.84 334.29 L174.70 334.04 L176.57 333.81 L178.44 333.59 L180.30 333.37 L182.17 333.16 L184.03 332.96 L185.90 332.76 L187.76 332.58 L189.63 332.39 L191.50 332.22 L193.36 332.05 L195.23 331.88 L197.09 331.72 L198.96 331.57 L200.83 331.42 L202.69 331.27 L204.56 331.13 L206.42 331.00 L208.29 330.86 L210.15 330.74 L212.02 330.61 L213.89 330.49 L215.75 330.37 L217.62 330.25 L219.48 330.14 L221.35 330.03 L223.22 329.93 L225.08 329.82 L226.95 329.72 L228.81 329.62 L230.68 329.53 L232.54 329.43 L234.41 329.34 L236.28 329.25 L238.14 329.17 L240.01 329.08 L241.87 329.00 L243.74 328.92 L245.61 328.84 L247.47 328.76 L249.34 328.69 L251.20 328.61 L253.07 328.54 L254.93 328.47 L256.80 328.40"/><path d="M89.40 397.50 L90.40 396.23 L91.40 394.96 L92.40 393.79 L93.40 392.73 L94.40 391.77 L95.40 390.90 L96.40 390.12 L97.40 389.41 L98.40 388.76 L99.40 388.18 L100.40 387.64 L101.40 387.14 L102.40 386.69 L103.40 386.27 L104.40 385.88 L105.40 385.52 L106.40 385.19 L107.40 384.88 L108.40 384.59 L109.40 384.32 L110.53 384.03 L111.66 383.76 L112.79 383.51 L113.92 383.28 L115.05 383.06 L116.18 382.86 L117.31 382.67 L118.44 382.49 L119.57 382.32 L120.70 382.15 L121.83 382.00 L122.96 381.86 L124.09 381.72 L125.23 381.59 L126.36 381.47 L127.49 381.35 L128.62 381.24 L129.75 381.13 L130.88 381.03 L132.01 380.93 L133.14 380.83 L134.27 380.74 L135.40 380.66 L136.53 380.58 L137.66 380.50 L138.79 380.42 L139.92 380.35 L141.05 380.28 L142.18 380.21 L143.31 380.14 L144.44 380.08 L145.57 380.02 L146.70 379.96 L147.83 379.91 L148.96 379.85 L150.09 379.80 L151.22 379.75 L152.35 379.70 L153.48 379.65 L154.62 379.60 L155.75 379.56 L156.88 379.51 L158.01 379.47 L159.14 379.43 L160.27 379.39 L161.40 379.35 L162.53 379.31 L163.66 379.28 L164.79 379.24 L165.92 379.21 L167.05 379.17 L168.18 379.14 L169.31 379.11 L170.44 379.08 L171.57 379.05 L172.70 379.02 L173.83 378.99 L174.96 378.96 L176.09 378.93 L177.22 378.91 L178.35 378.88 L179.48 378.86 L180.61 378.83 L181.74 378.81 L182.87 378.78 L184.01 378.76 L185.14 378.74 L186.27 378.71 L187.40 378.69 L188.53 378.67 L189.66 378.65 L190.79 378.63 L191.92 378.61 L193.05 378.59 L194.18 378.57 L195.31 378.55 L196.44 378.54 L197.57 378.52 L198.70 378.50"/><path d="M89.40 397.50 L90.40 395.31 L91.40 392.87 L92.40 390.35 L93.40 387.81 L94.40 385.27 L95.40 382.74 L96.40 380.23 L97.40 377.75 L98.40 375.30 L99.40 372.88 L100.40 370.50 L101.40 368.16 L102.40 365.86 L103.40 363.60 L104.40 361.37 L105.40 359.19 L106.40 357.05 L107.40 354.94 L108.40 352.87 L109.40 350.85 L112.08 345.60 L114.76 340.62 L117.44 335.88 L120.11 331.38 L122.79 327.09 L125.47 323.02 L128.15 319.14 L130.83 315.45 L133.51 311.93 L136.18 308.57 L138.86 305.36 L141.54 302.30 L144.22 299.37 L146.90 296.57 L149.58 293.88 L152.26 291.31 L154.93 288.85 L157.61 286.48 L160.29 284.21 L162.97 282.03 L165.65 279.94 L168.33 277.92 L171.01 275.98 L173.68 274.11 L176.36 272.31 L179.04 270.57 L181.72 268.89 L184.40 267.27 L187.08 265.71 L189.75 264.20 L192.43 262.74 L195.11 261.33 L197.79 259.96 L200.47 258.64 L203.15 257.36 L205.83 256.12 L208.50 254.91 L211.18 253.75 L213.86 252.61 L216.54 251.51 L219.22 250.45 L221.90 249.41 L224.57 248.40 L227.25 247.42 L229.93 246.47 L232.61 245.54 L235.29 244.64 L237.97 243.76 L240.65 242.91 L243.32 242.07 L246.00 241.26 L248.68 240.47 L251.36 239.70 L254.04 238.95 L256.72 238.21 L259.39 237.50 L262.07 236.80 L264.75 236.12 L267.43 235.45 L270.11 234.80 L272.79 234.16 L275.47 233.54 L278.14 232.94 L280.82 232.34 L283.50 231.76 L286.18 231.19 L288.86 230.64 L291.54 230.09 L294.22 229.56 L296.89 229.04 L299.57 228.53 L302.25 228.03 L304.93 227.54 L307.61 227.06 L310.29 226.59 L312.96 226.13 L315.64 225.68 L318.32 225.23 L321.00 224.80"/></g><g fill="none" stroke="#3cb3b6" stroke-width="1.30" stroke-linejoin="round" stroke-linecap="round"><path d="M89.40 397.50 L90.40 394.71 L91.40 392.02 L92.40 389.41 L93.40 386.89 L94.40 384.44 L95.40 382.07 L96.40 379.77 L97.40 377.54 L98.40 375.37 L99.40 373.26 L100.40 371.22 L101.40 369.22 L102.40 367.28 L103.40 365.39 L104.40 363.55 L105.40 361.76 L106.40 360.01 L107.40 358.30 L108.40 356.64 L109.40 355.01 L111.28 352.06 L113.15 349.23 L115.03 346.52 L116.90 343.91 L118.78 341.40 L120.66 338.98 L122.53 336.65 L124.41 334.39 L126.28 332.22 L128.16 330.11 L130.04 328.08 L131.91 326.10 L133.79 324.18 L135.66 322.32 L137.54 320.52 L139.42 318.76 L141.29 317.05 L143.17 315.38 L145.04 313.76 L146.92 312.18 L148.79 310.63 L150.67 309.12 L152.55 307.65 L154.42 306.21 L156.30 304.80 L158.17 303.42 L160.05 302.07 L161.93 300.74 L163.80 299.45 L165.68 298.17 L167.55 296.92 L169.43 295.70 L171.31 294.49 L173.18 293.31 L175.06 292.15 L176.93 291.01 L178.81 289.88 L180.69 288.77 L182.56 287.69 L184.44 286.61 L186.31 285.56 L188.19 284.51 L190.07 283.49 L191.94 282.47 L193.82 281.48 L195.69 280.49 L197.57 279.52 L199.45 278.56 L201.32 277.61 L203.20 276.67 L205.07 275.75 L206.95 274.83 L208.83 273.93 L210.70 273.03 L212.58 272.15 L214.45 271.27 L216.33 270.41 L218.21 269.55 L220.08 268.70 L221.96 267.86 L223.83 267.03 L225.71 266.20 L227.58 265.39 L229.46 264.58 L231.34 263.78 L233.21 262.98 L235.09 262.19 L236.96 261.41 L238.84 260.64 L240.72 259.87 L242.59 259.10 L244.47 258.35 L246.34 257.59 L248.22 256.85 L250.10 256.11 L251.97 255.37 L253.85 254.64 L255.72 253.92 L257.60 253.20"/><path d="M89.40 397.50 L90.40 394.88 L91.40 392.35 L92.40 389.90 L93.40 387.53 L94.40 385.22 L95.40 382.99 L96.40 380.82 L97.40 378.71 L98.40 376.67 L99.40 374.68 L100.40 372.74 L101.40 370.86 L102.40 369.02 L103.40 367.24 L104.40 365.50 L105.40 363.80 L106.40 362.15 L107.40 360.53 L108.40 358.96 L109.40 357.42 L111.22 354.71 L113.04 352.12 L114.85 349.62 L116.67 347.23 L118.49 344.92 L120.31 342.70 L122.12 340.55 L123.94 338.49 L125.76 336.49 L127.58 334.55 L129.39 332.68 L131.21 330.87 L133.03 329.12 L134.85 327.42 L136.67 325.76 L138.48 324.16 L140.30 322.60 L142.12 321.08 L143.94 319.60 L145.75 318.16 L147.57 316.76 L149.39 315.40 L151.21 314.06 L153.03 312.76 L154.84 311.49 L156.66 310.25 L158.48 309.04 L160.30 307.85 L162.11 306.69 L163.93 305.56 L165.75 304.44 L167.57 303.35 L169.38 302.28 L171.20 301.24 L173.02 300.21 L174.84 299.20 L176.66 298.21 L178.47 297.24 L180.29 296.29 L182.11 295.35 L183.93 294.43 L185.74 293.52 L187.56 292.63 L189.38 291.75 L191.20 290.89 L193.02 290.03 L194.83 289.20 L196.65 288.37 L198.47 287.56 L200.29 286.76 L202.10 285.97 L203.92 285.19 L205.74 284.42 L207.56 283.66 L209.37 282.91 L211.19 282.18 L213.01 281.45 L214.83 280.73 L216.65 280.01 L218.46 279.31 L220.28 278.62 L222.10 277.93 L223.92 277.25 L225.73 276.58 L227.55 275.92 L229.37 275.26 L231.19 274.61 L233.01 273.97 L234.82 273.33 L236.64 272.70 L238.46 272.08 L240.28 271.46 L242.09 270.85 L243.91 270.25 L245.73 269.65 L247.55 269.05 L249.36 268.46 L251.18 267.88 L253.00 267.30"/><path d="M89.40 397.50 L90.40 394.84 L91.40 392.29 L92.40 389.84 L93.40 387.48 L94.40 385.22 L95.40 383.03 L96.40 380.93 L97.40 378.90 L98.40 376.94 L99.40 375.05 L100.40 373.21 L101.40 371.44 L102.40 369.73 L103.40 368.06 L104.40 366.45 L105.40 364.88 L106.40 363.37 L107.40 361.89 L108.40 360.45 L109.40 359.06 L112.07 355.50 L114.75 352.18 L117.42 349.07 L120.10 346.15 L122.77 343.40 L125.45 340.80 L128.12 338.33 L130.80 335.99 L133.47 333.76 L136.15 331.63 L138.82 329.60 L141.50 327.65 L144.17 325.78 L146.85 323.98 L149.52 322.25 L152.19 320.58 L154.87 318.97 L157.54 317.41 L160.22 315.90 L162.89 314.44 L165.57 313.02 L168.24 311.64 L170.92 310.30 L173.59 308.99 L176.27 307.71 L178.94 306.47 L181.62 305.26 L184.29 304.07 L186.97 302.91 L189.64 301.77 L192.32 300.66 L194.99 299.57 L197.66 298.50 L200.34 297.44 L203.01 296.41 L205.69 295.40 L208.36 294.40 L211.04 293.42 L213.71 292.45 L216.39 291.50 L219.06 290.56 L221.74 289.64 L224.41 288.72 L227.09 287.82 L229.76 286.94 L232.44 286.06 L235.11 285.19 L237.78 284.34 L240.46 283.49 L243.13 282.65 L245.81 281.82 L248.48 281.00 L251.16 280.19 L253.83 279.39 L256.51 278.59 L259.18 277.80 L261.86 277.02 L264.53 276.25 L267.21 275.48 L269.88 274.72 L272.56 273.96 L275.23 273.21 L277.91 272.47 L280.58 271.73 L283.25 270.99 L285.93 270.27 L288.60 269.54 L291.28 268.82 L293.95 268.11 L296.63 267.40 L299.30 266.70 L301.98 266.00 L304.65 265.30 L307.33 264.61 L310.00 263.92 L312.68 263.23 L315.35 262.55 L318.03 261.87 L320.70 261.20"/><path d="M89.40 397.50 L90.40 395.00 L91.40 392.59 L92.40 390.28 L93.40 388.04 L94.40 385.89 L95.40 383.81 L96.40 381.80 L97.40 379.86 L98.40 377.99 L99.40 376.17 L100.40 374.41 L101.40 372.70 L102.40 371.04 L103.40 369.44 L104.40 367.88 L105.40 366.36 L106.40 364.89 L107.40 363.45 L108.40 362.06 L109.40 360.70 L112.78 356.36 L116.16 352.37 L119.54 348.67 L122.91 345.25 L126.29 342.05 L129.67 339.05 L133.05 336.24 L136.43 333.60 L139.81 331.09 L143.18 328.72 L146.56 326.47 L149.94 324.32 L153.32 322.27 L156.70 320.31 L160.08 318.43 L163.46 316.62 L166.83 314.88 L170.21 313.21 L173.59 311.59 L176.97 310.03 L180.35 308.52 L183.73 307.05 L187.11 305.62 L190.48 304.24 L193.86 302.89 L197.24 301.58 L200.62 300.30 L204.00 299.05 L207.38 297.83 L210.75 296.64 L214.13 295.47 L217.51 294.33 L220.89 293.21 L224.27 292.11 L227.65 291.03 L231.03 289.97 L234.40 288.93 L237.78 287.90 L241.16 286.89 L244.54 285.90 L247.92 284.92 L251.30 283.95 L254.67 283.00 L258.05 282.06 L261.43 281.14 L264.81 280.22 L268.19 279.32 L271.57 278.42 L274.95 277.54 L278.32 276.66 L281.70 275.80 L285.08 274.94 L288.46 274.10 L291.84 273.26 L295.22 272.43 L298.59 271.60 L301.97 270.78 L305.35 269.98 L308.73 269.17 L312.11 268.38 L315.49 267.58 L318.87 266.80 L322.24 266.02 L325.62 265.25 L329.00 264.48 L332.38 263.72 L335.76 262.96 L339.14 262.21 L342.52 261.46 L345.89 260.71 L349.27 259.98 L352.65 259.24 L356.03 258.51 L359.41 257.78 L362.79 257.06 L366.16 256.34 L369.54 255.62 L372.92 254.91 L376.30 254.20"/><path d="M89.40 397.50 L90.40 395.09 L91.40 392.76 L92.40 390.51 L93.40 388.35 L94.40 386.25 L95.40 384.23 L96.40 382.27 L97.40 380.37 L98.40 378.54 L99.40 376.76 L100.40 375.03 L101.40 373.36 L102.40 371.73 L103.40 370.15 L104.40 368.62 L105.40 367.13 L106.40 365.68 L107.40 364.27 L108.40 362.90 L109.40 361.56 L112.57 357.54 L115.74 353.83 L118.91 350.38 L122.08 347.17 L125.25 344.17 L128.42 341.37 L131.59 338.73 L134.76 336.25 L137.93 333.90 L141.10 331.68 L144.27 329.58 L147.44 327.58 L150.61 325.68 L153.77 323.86 L156.94 322.13 L160.11 320.47 L163.28 318.88 L166.45 317.36 L169.62 315.89 L172.79 314.48 L175.96 313.12 L179.13 311.81 L182.30 310.54 L185.47 309.32 L188.64 308.13 L191.81 306.99 L194.98 305.87 L198.15 304.79 L201.32 303.74 L204.49 302.72 L207.66 301.73 L210.83 300.76 L214.00 299.81 L217.17 298.89 L220.34 297.99 L223.51 297.12 L226.68 296.26 L229.85 295.42 L233.02 294.60 L236.18 293.79 L239.35 293.00 L242.52 292.23 L245.69 291.47 L248.86 290.73 L252.03 289.99 L255.20 289.28 L258.37 288.57 L261.54 287.88 L264.71 287.19 L267.88 286.52 L271.05 285.86 L274.22 285.21 L277.39 284.57 L280.56 283.93 L283.73 283.31 L286.90 282.69 L290.07 282.09 L293.24 281.49 L296.41 280.89 L299.58 280.31 L302.75 279.73 L305.92 279.16 L309.09 278.60 L312.26 278.04 L315.43 277.49 L318.59 276.94 L321.76 276.40 L324.93 275.87 L328.10 275.34 L331.27 274.81 L334.44 274.29 L337.61 273.78 L340.78 273.27 L343.95 272.76 L347.12 272.26 L350.29 271.77 L353.46 271.27 L356.63 270.78 L359.80 270.30"/><path d="M89.40 397.50 L90.40 395.32 L91.40 393.22 L92.40 391.19 L93.40 389.24 L94.40 387.35 L95.40 385.52 L96.40 383.76 L97.40 382.05 L98.40 380.40 L99.40 378.80 L100.40 377.25 L101.40 375.74 L102.40 374.28 L103.40 372.87 L104.40 371.49 L105.40 370.15 L106.40 368.85 L107.40 367.59 L108.40 366.36 L109.40 365.16 L112.88 361.23 L116.35 357.62 L119.83 354.31 L123.30 351.24 L126.78 348.39 L130.26 345.74 L133.73 343.26 L137.21 340.94 L140.68 338.76 L144.16 336.70 L147.64 334.76 L151.11 332.92 L154.59 331.18 L158.06 329.52 L161.54 327.94 L165.02 326.44 L168.49 325.00 L171.97 323.62 L175.44 322.29 L178.92 321.02 L182.39 319.80 L185.87 318.63 L189.35 317.49 L192.82 316.40 L196.30 315.34 L199.77 314.31 L203.25 313.32 L206.73 312.36 L210.20 311.42 L213.68 310.52 L217.15 309.63 L220.63 308.78 L224.11 307.94 L227.58 307.12 L231.06 306.33 L234.53 305.55 L238.01 304.79 L241.49 304.05 L244.96 303.32 L248.44 302.61 L251.91 301.92 L255.39 301.23 L258.87 300.57 L262.34 299.91 L265.82 299.26 L269.29 298.63 L272.77 298.01 L276.25 297.40 L279.72 296.80 L283.20 296.20 L286.67 295.62 L290.15 295.05 L293.63 294.48 L297.10 293.92 L300.58 293.37 L304.05 292.83 L307.53 292.30 L311.01 291.77 L314.48 291.25 L317.96 290.73 L321.43 290.22 L324.91 289.72 L328.38 289.22 L331.86 288.73 L335.34 288.24 L338.81 287.76 L342.29 287.28 L345.76 286.81 L349.24 286.35 L352.72 285.88 L356.19 285.43 L359.67 284.97 L363.14 284.52 L366.62 284.08 L370.10 283.63 L373.57 283.19 L377.05 282.76 L380.52 282.33 L384.00 281.90"/><path d="M89.40 397.50 L90.40 395.61 L91.40 393.76 L92.40 391.96 L93.40 390.21 L94.40 388.51 L95.40 386.84 L96.40 385.22 L97.40 383.63 L98.40 382.08 L99.40 380.57 L100.40 379.10 L101.40 377.65 L102.40 376.25 L103.40 374.87 L104.40 373.52 L105.40 372.21 L106.40 370.92 L107.40 369.66 L108.40 368.42 L109.40 367.22 L111.95 364.25 L114.50 361.43 L117.05 358.76 L119.60 356.22 L122.15 353.79 L124.70 351.48 L127.25 349.27 L129.79 347.16 L132.34 345.14 L134.89 343.21 L137.44 341.36 L139.99 339.58 L142.54 337.88 L145.09 336.24 L147.64 334.66 L150.19 333.14 L152.74 331.68 L155.29 330.27 L157.84 328.91 L160.39 327.60 L162.94 326.34 L165.49 325.11 L168.04 323.93 L170.58 322.79 L173.13 321.68 L175.68 320.61 L178.23 319.57 L180.78 318.56 L183.33 317.59 L185.88 316.64 L188.43 315.72 L190.98 314.83 L193.53 313.96 L196.08 313.12 L198.63 312.30 L201.18 311.50 L203.73 310.72 L206.28 309.97 L208.83 309.23 L211.37 308.52 L213.92 307.82 L216.47 307.14 L219.02 306.48 L221.57 305.83 L224.12 305.20 L226.67 304.58 L229.22 303.98 L231.77 303.39 L234.32 302.82 L236.87 302.26 L239.42 301.71 L241.97 301.18 L244.52 300.65 L247.07 300.14 L249.62 299.64 L252.16 299.15 L254.71 298.67 L257.26 298.20 L259.81 297.74 L262.36 297.29 L264.91 296.85 L267.46 296.41 L270.01 295.99 L272.56 295.57 L275.11 295.17 L277.66 294.77 L280.21 294.38 L282.76 293.99 L285.31 293.61 L287.86 293.24 L290.41 292.88 L292.95 292.52 L295.50 292.17 L298.05 291.83 L300.60 291.49 L303.15 291.16 L305.70 290.83 L308.25 290.51 L310.80 290.20"/><path d="M89.40 397.50 L90.40 395.58 L91.40 393.73 L92.40 391.93 L93.40 390.19 L94.40 388.50 L95.40 386.86 L96.40 385.27 L97.40 383.72 L98.40 382.21 L99.40 380.75 L100.40 379.33 L101.40 377.94 L102.40 376.59 L103.40 375.28 L104.40 374.00 L105.40 372.75 L106.40 371.53 L107.40 370.35 L108.40 369.19 L109.40 368.06 L112.86 364.34 L116.33 360.90 L119.79 357.70 L123.25 354.73 L126.72 351.95 L130.18 349.34 L133.64 346.89 L137.11 344.59 L140.57 342.41 L144.03 340.35 L147.50 338.40 L150.96 336.54 L154.42 334.77 L157.89 333.09 L161.35 331.48 L164.81 329.94 L168.28 328.46 L171.74 327.04 L175.20 325.68 L178.67 324.37 L182.13 323.11 L185.59 321.89 L189.06 320.72 L192.52 319.58 L195.98 318.48 L199.45 317.41 L202.91 316.38 L206.37 315.38 L209.84 314.40 L213.30 313.45 L216.76 312.53 L220.23 311.63 L223.69 310.76 L227.15 309.90 L230.62 309.07 L234.08 308.26 L237.54 307.46 L241.01 306.68 L244.47 305.92 L247.93 305.18 L251.39 304.45 L254.86 303.73 L258.32 303.03 L261.78 302.34 L265.25 301.66 L268.71 301.00 L272.17 300.35 L275.64 299.70 L279.10 299.07 L282.56 298.45 L286.03 297.84 L289.49 297.24 L292.95 296.64 L296.42 296.06 L299.88 295.48 L303.34 294.92 L306.81 294.35 L310.27 293.80 L313.73 293.25 L317.20 292.72 L320.66 292.18 L324.12 291.66 L327.59 291.14 L331.05 290.62 L334.51 290.11 L337.98 289.61 L341.44 289.11 L344.90 288.62 L348.37 288.13 L351.83 287.65 L355.29 287.17 L358.76 286.70 L362.22 286.23 L365.68 285.76 L369.15 285.30 L372.61 284.85 L376.07 284.39 L379.54 283.95 L383.00 283.50"/><path d="M89.40 397.50 L90.40 395.69 L91.40 393.94 L92.40 392.23 L93.40 390.57 L94.40 388.95 L95.40 387.38 L96.40 385.85 L97.40 384.36 L98.40 382.90 L99.40 381.49 L100.40 380.11 L101.40 378.76 L102.40 377.45 L103.40 376.16 L104.40 374.91 L105.40 373.69 L106.40 372.50 L107.40 371.33 L108.40 370.19 L109.40 369.07 L111.46 366.86 L113.51 364.74 L115.57 362.72 L117.62 360.78 L119.68 358.92 L121.73 357.13 L123.79 355.42 L125.85 353.78 L127.90 352.19 L129.96 350.67 L132.01 349.20 L134.07 347.79 L136.12 346.42 L138.18 345.11 L140.24 343.83 L142.29 342.60 L144.35 341.42 L146.40 340.27 L148.46 339.16 L150.51 338.08 L152.57 337.03 L154.63 336.02 L156.68 335.04 L158.74 334.09 L160.79 333.17 L162.85 332.27 L164.90 331.40 L166.96 330.55 L169.02 329.72 L171.07 328.92 L173.13 328.14 L175.18 327.38 L177.24 326.64 L179.29 325.92 L181.35 325.22 L183.41 324.54 L185.46 323.87 L187.52 323.22 L189.57 322.58 L191.63 321.96 L193.68 321.36 L195.74 320.77 L197.79 320.19 L199.85 319.63 L201.91 319.08 L203.96 318.54 L206.02 318.01 L208.07 317.50 L210.13 316.99 L212.18 316.50 L214.24 316.02 L216.30 315.54 L218.35 315.08 L220.41 314.63 L222.46 314.18 L224.52 313.75 L226.57 313.32 L228.63 312.90 L230.69 312.49 L232.74 312.09 L234.80 311.70 L236.85 311.31 L238.91 310.93 L240.96 310.56 L243.02 310.19 L245.08 309.83 L247.13 309.48 L249.19 309.13 L251.24 308.79 L253.30 308.46 L255.35 308.13 L257.41 307.81 L259.47 307.49 L261.52 307.18 L263.58 306.87 L265.63 306.57 L267.69 306.28 L269.74 305.99 L271.80 305.70"/><path d="M89.40 397.50 L90.40 395.74 L91.40 394.02 L92.40 392.36 L93.40 390.73 L94.40 389.16 L95.40 387.62 L96.40 386.12 L97.40 384.66 L98.40 383.24 L99.40 381.85 L100.40 380.50 L101.40 379.18 L102.40 377.89 L103.40 376.63 L104.40 375.41 L105.40 374.21 L106.40 373.04 L107.40 371.89 L108.40 370.77 L109.40 369.68 L111.45 367.51 L113.50 365.43 L115.56 363.44 L117.61 361.54 L119.66 359.71 L121.71 357.95 L123.76 356.27 L125.82 354.65 L127.87 353.09 L129.92 351.59 L131.97 350.14 L134.02 348.75 L136.07 347.40 L138.13 346.10 L140.18 344.85 L142.23 343.63 L144.28 342.46 L146.33 341.33 L148.39 340.23 L150.44 339.16 L152.49 338.13 L154.54 337.13 L156.59 336.16 L158.65 335.21 L160.70 334.30 L162.75 333.41 L164.80 332.55 L166.85 331.71 L168.91 330.89 L170.96 330.10 L173.01 329.32 L175.06 328.57 L177.11 327.84 L179.16 327.12 L181.22 326.43 L183.27 325.75 L185.32 325.08 L187.37 324.44 L189.42 323.81 L191.48 323.19 L193.53 322.59 L195.58 322.00 L197.63 321.43 L199.68 320.87 L201.74 320.32 L203.79 319.79 L205.84 319.26 L207.89 318.75 L209.94 318.25 L211.99 317.76 L214.05 317.28 L216.10 316.81 L218.15 316.35 L220.20 315.90 L222.25 315.45 L224.31 315.02 L226.36 314.60 L228.41 314.18 L230.46 313.77 L232.51 313.37 L234.57 312.98 L236.62 312.59 L238.67 312.21 L240.72 311.84 L242.77 311.48 L244.83 311.12 L246.88 310.77 L248.93 310.42 L250.98 310.09 L253.03 309.75 L255.08 309.43 L257.14 309.10 L259.19 308.79 L261.24 308.48 L263.29 308.17 L265.34 307.87 L267.40 307.58 L269.45 307.29 L271.50 307.00"/><path d="M89.40 397.50 L90.40 395.72 L91.40 393.99 L92.40 392.32 L93.40 390.69 L94.40 389.12 L95.40 387.59 L96.40 386.11 L97.40 384.67 L98.40 383.27 L99.40 381.90 L100.40 380.58 L101.40 379.29 L102.40 378.04 L103.40 376.81 L104.40 375.62 L105.40 374.46 L106.40 373.34 L107.40 372.23 L108.40 371.16 L109.40 370.11 L111.06 368.43 L112.72 366.81 L114.37 365.25 L116.03 363.76 L117.69 362.31 L119.35 360.92 L121.01 359.58 L122.67 358.29 L124.32 357.04 L125.98 355.83 L127.64 354.66 L129.30 353.53 L130.96 352.44 L132.62 351.38 L134.27 350.35 L135.93 349.36 L137.59 348.39 L139.25 347.45 L140.91 346.55 L142.56 345.66 L144.22 344.80 L145.88 343.97 L147.54 343.16 L149.20 342.37 L150.86 341.60 L152.51 340.86 L154.17 340.13 L155.83 339.42 L157.49 338.73 L159.15 338.05 L160.81 337.40 L162.46 336.76 L164.12 336.13 L165.78 335.52 L167.44 334.93 L169.10 334.34 L170.75 333.78 L172.41 333.22 L174.07 332.68 L175.73 332.15 L177.39 331.63 L179.05 331.12 L180.70 330.63 L182.36 330.14 L184.02 329.66 L185.68 329.20 L187.34 328.74 L188.99 328.30 L190.65 327.86 L192.31 327.43 L193.97 327.01 L195.63 326.60 L197.29 326.19 L198.94 325.80 L200.60 325.41 L202.26 325.03 L203.92 324.65 L205.58 324.29 L207.24 323.93 L208.89 323.57 L210.55 323.23 L212.21 322.88 L213.87 322.55 L215.53 322.22 L217.18 321.90 L218.84 321.58 L220.50 321.27 L222.16 320.96 L223.82 320.66 L225.48 320.36 L227.13 320.07 L228.79 319.78 L230.45 319.50 L232.11 319.22 L233.77 318.95 L235.43 318.68 L237.08 318.42 L238.74 318.16 L240.40 317.90"/><path d="M89.40 397.50 L90.40 395.94 L91.40 394.42 L92.40 392.95 L93.40 391.51 L94.40 390.12 L95.40 388.76 L96.40 387.43 L97.40 386.14 L98.40 384.88 L99.40 383.65 L100.40 382.45 L101.40 381.27 L102.40 380.13 L103.40 379.01 L104.40 377.91 L105.40 376.84 L106.40 375.79 L107.40 374.77 L108.40 373.76 L109.40 372.78 L111.94 370.36 L114.48 368.06 L117.02 365.87 L119.56 363.78 L122.10 361.78 L124.64 359.85 L127.17 358.01 L129.71 356.23 L132.25 354.52 L134.79 352.88 L137.33 351.28 L139.87 349.74 L142.41 348.25 L144.95 346.81 L147.49 345.41 L150.03 344.04 L152.57 342.72 L155.11 341.43 L157.65 340.18 L160.18 338.96 L162.72 337.76 L165.26 336.60 L167.80 335.46 L170.34 334.35 L172.88 333.26 L175.42 332.19 L177.96 331.14 L180.50 330.12 L183.04 329.11 L185.58 328.13 L188.12 327.16 L190.66 326.20 L193.19 325.27 L195.73 324.35 L198.27 323.44 L200.81 322.55 L203.35 321.67 L205.89 320.80 L208.43 319.95 L210.97 319.10 L213.51 318.27 L216.05 317.45 L218.59 316.64 L221.13 315.84 L223.67 315.05 L226.21 314.27 L228.74 313.49 L231.28 312.73 L233.82 311.97 L236.36 311.22 L238.90 310.48 L241.44 309.75 L243.98 309.02 L246.52 308.30 L249.06 307.59 L251.60 306.89 L254.14 306.19 L256.68 305.49 L259.22 304.80 L261.75 304.12 L264.29 303.44 L266.83 302.77 L269.37 302.10 L271.91 301.44 L274.45 300.78 L276.99 300.13 L279.53 299.48 L282.07 298.84 L284.61 298.20 L287.15 297.56 L289.69 296.93 L292.23 296.30 L294.76 295.67 L297.30 295.05 L299.84 294.44 L302.38 293.82 L304.92 293.21 L307.46 292.60 L310.00 292.00"/><path d="M89.40 397.50 L90.40 396.11 L91.40 394.77 L92.40 393.46 L93.40 392.19 L94.40 390.96 L95.40 389.77 L96.40 388.60 L97.40 387.47 L98.40 386.37 L99.40 385.31 L100.40 384.27 L101.40 383.25 L102.40 382.27 L103.40 381.30 L104.40 380.37 L105.40 379.45 L106.40 378.56 L107.40 377.69 L108.40 376.84 L109.40 376.02 L111.80 374.11 L114.20 372.30 L116.60 370.59 L119.01 368.96 L121.41 367.42 L123.81 365.95 L126.21 364.56 L128.61 363.23 L131.01 361.95 L133.41 360.74 L135.81 359.58 L138.22 358.46 L140.62 357.40 L143.02 356.38 L145.42 355.39 L147.82 354.45 L150.22 353.54 L152.62 352.67 L155.02 351.83 L157.43 351.02 L159.83 350.24 L162.23 349.49 L164.63 348.76 L167.03 348.06 L169.43 347.38 L171.83 346.72 L174.23 346.08 L176.64 345.47 L179.04 344.87 L181.44 344.29 L183.84 343.73 L186.24 343.19 L188.64 342.66 L191.04 342.15 L193.44 341.65 L195.85 341.17 L198.25 340.70 L200.65 340.24 L203.05 339.80 L205.45 339.36 L207.85 338.94 L210.25 338.53 L212.65 338.13 L215.06 337.74 L217.46 337.36 L219.86 336.99 L222.26 336.63 L224.66 336.27 L227.06 335.93 L229.46 335.59 L231.86 335.26 L234.27 334.94 L236.67 334.63 L239.07 334.32 L241.47 334.02 L243.87 333.73 L246.27 333.44 L248.67 333.16 L251.07 332.89 L253.48 332.62 L255.88 332.35 L258.28 332.09 L260.68 331.84 L263.08 331.59 L265.48 331.35 L267.88 331.11 L270.28 330.88 L272.69 330.65 L275.09 330.43 L277.49 330.21 L279.89 329.99 L282.29 329.78 L284.69 329.57 L287.09 329.37 L289.49 329.17 L291.90 328.97 L294.30 328.78 L296.70 328.59 L299.10 328.40"/><path d="M89.40 397.50 L90.40 396.06 L91.40 394.67 L92.40 393.32 L93.40 392.00 L94.40 390.73 L95.40 389.49 L96.40 388.28 L97.40 387.11 L98.40 385.97 L99.40 384.86 L100.40 383.78 L101.40 382.73 L102.40 381.70 L103.40 380.70 L104.40 379.73 L105.40 378.78 L106.40 377.85 L107.40 376.95 L108.40 376.06 L109.40 375.20 L111.03 373.84 L112.67 372.52 L114.30 371.26 L115.93 370.04 L117.56 368.86 L119.20 367.72 L120.83 366.62 L122.46 365.56 L124.10 364.53 L125.73 363.54 L127.36 362.57 L128.99 361.64 L130.63 360.74 L132.26 359.86 L133.89 359.01 L135.53 358.18 L137.16 357.38 L138.79 356.60 L140.43 355.85 L142.06 355.11 L143.69 354.40 L145.32 353.70 L146.96 353.02 L148.59 352.36 L150.22 351.72 L151.86 351.10 L153.49 350.49 L155.12 349.89 L156.75 349.31 L158.39 348.74 L160.02 348.19 L161.65 347.65 L163.29 347.13 L164.92 346.61 L166.55 346.11 L168.18 345.62 L169.82 345.14 L171.45 344.67 L173.08 344.21 L174.72 343.76 L176.35 343.32 L177.98 342.89 L179.62 342.47 L181.25 342.06 L182.88 341.66 L184.51 341.26 L186.15 340.87 L187.78 340.49 L189.41 340.12 L191.05 339.76 L192.68 339.40 L194.31 339.05 L195.94 338.70 L197.58 338.37 L199.21 338.03 L200.84 337.71 L202.48 337.39 L204.11 337.08 L205.74 336.77 L207.37 336.47 L209.01 336.17 L210.64 335.88 L212.27 335.59 L213.91 335.31 L215.54 335.03 L217.17 334.76 L218.81 334.49 L220.44 334.23 L222.07 333.97 L223.70 333.72 L225.34 333.47 L226.97 333.22 L228.60 332.98 L230.24 332.74 L231.87 332.50 L233.50 332.27 L235.13 332.04 L236.77 331.82 L238.40 331.60"/><path d="M89.40 397.50 L90.40 396.31 L91.40 395.15 L92.40 394.02 L93.40 392.91 L94.40 391.84 L95.40 390.78 L96.40 389.76 L97.40 388.76 L98.40 387.78 L99.40 386.82 L100.40 385.89 L101.40 384.97 L102.40 384.08 L103.40 383.21 L104.40 382.35 L105.40 381.51 L106.40 380.70 L107.40 379.89 L108.40 379.11 L109.40 378.34 L111.80 376.56 L114.20 374.86 L116.60 373.24 L119.00 371.70 L121.40 370.22 L123.80 368.80 L126.20 367.45 L128.60 366.15 L131.00 364.90 L133.40 363.70 L135.80 362.55 L138.20 361.45 L140.60 360.38 L143.00 359.35 L145.40 358.37 L147.80 357.41 L150.20 356.49 L152.60 355.60 L155.00 354.74 L157.40 353.91 L159.80 353.11 L162.20 352.33 L164.60 351.57 L167.00 350.84 L169.40 350.13 L171.80 349.45 L174.20 348.78 L176.60 348.13 L179.00 347.51 L181.40 346.90 L183.80 346.30 L186.20 345.72 L188.60 345.16 L191.00 344.62 L193.40 344.09 L195.80 343.57 L198.20 343.06 L200.60 342.57 L203.00 342.09 L205.40 341.62 L207.80 341.17 L210.20 340.72 L212.60 340.29 L215.00 339.87 L217.40 339.45 L219.80 339.05 L222.20 338.65 L224.60 338.27 L227.00 337.89 L229.40 337.52 L231.80 337.16 L234.20 336.80 L236.60 336.46 L239.00 336.12 L241.40 335.79 L243.80 335.46 L246.20 335.15 L248.60 334.83 L251.00 334.53 L253.40 334.23 L255.80 333.94 L258.20 333.65 L260.60 333.37 L263.00 333.09 L265.40 332.82 L267.80 332.55 L270.20 332.29 L272.60 332.04 L275.00 331.79 L277.40 331.54 L279.80 331.30 L282.20 331.06 L284.60 330.82 L287.00 330.59 L289.40 330.37 L291.80 330.14 L294.20 329.93 L296.60 329.71 L299.00 329.50"/><path d="M89.40 397.50 L90.40 396.72 L91.40 395.97 L92.40 395.22 L93.40 394.50 L94.40 393.79 L95.40 393.09 L96.40 392.41 L97.40 391.74 L98.40 391.09 L99.40 390.45 L100.40 389.82 L101.40 389.20 L102.40 388.60 L103.40 388.01 L104.40 387.43 L105.40 386.86 L106.40 386.30 L107.40 385.75 L108.40 385.21 L109.40 384.68 L112.64 383.03 L115.88 381.48 L119.12 380.01 L122.36 378.61 L125.60 377.29 L128.84 376.03 L132.08 374.84 L135.32 373.70 L138.56 372.62 L141.81 371.58 L145.05 370.60 L148.29 369.65 L151.53 368.75 L154.77 367.88 L158.01 367.05 L161.25 366.25 L164.49 365.48 L167.73 364.75 L170.97 364.04 L174.21 363.35 L177.45 362.70 L180.69 362.06 L183.93 361.45 L187.17 360.86 L190.41 360.29 L193.65 359.74 L196.89 359.20 L200.13 358.69 L203.37 358.19 L206.62 357.70 L209.86 357.24 L213.10 356.78 L216.34 356.34 L219.58 355.91 L222.82 355.50 L226.06 355.09 L229.30 354.70 L232.54 354.32 L235.78 353.95 L239.02 353.59 L242.26 353.23 L245.50 352.89 L248.74 352.56 L251.98 352.23 L255.22 351.92 L258.46 351.61 L261.70 351.31 L264.94 351.02 L268.18 350.73 L271.43 350.45 L274.67 350.18 L277.91 349.91 L281.15 349.65 L284.39 349.40 L287.63 349.15 L290.87 348.90 L294.11 348.67 L297.35 348.43 L300.59 348.21 L303.83 347.98 L307.07 347.76 L310.31 347.55 L313.55 347.34 L316.79 347.14 L320.03 346.94 L323.27 346.74 L326.51 346.55 L329.75 346.36 L332.99 346.17 L336.24 345.99 L339.48 345.81 L342.72 345.64 L345.96 345.47 L349.20 345.30 L352.44 345.13 L355.68 344.97 L358.92 344.81 L362.16 344.65 L365.40 344.50"/><path d="M89.40 397.50 L90.40 395.10 L91.40 392.80 L92.40 390.59 L93.40 388.47 L94.40 386.43 L95.40 384.47 L96.40 382.58 L97.40 380.75 L98.40 378.99 L99.40 377.28 L100.40 375.63 L101.40 374.03 L102.40 372.48 L103.40 370.98 L104.40 369.52 L105.40 368.10 L106.40 366.72 L107.40 365.38 L108.40 364.07 L109.40 362.80 L110.36 361.61 L111.31 360.45 L112.27 359.32 L113.23 358.21 L114.18 357.12 L115.14 356.06 L116.10 355.02 L117.06 354.00 L118.01 353.01 L118.97 352.03 L119.93 351.07 L120.88 350.13 L121.84 349.20 L122.80 348.30 L123.75 347.40 L124.71 346.53 L125.67 345.66 L126.63 344.82 L127.58 343.98 L128.54 343.16 L129.50 342.35 L130.45 341.56 L131.41 340.77 L132.37 340.00 L133.32 339.24 L134.28 338.49 L135.24 337.75 L136.19 337.02 L137.15 336.30 L138.11 335.58 L139.07 334.88 L140.02 334.19 L140.98 333.50 L141.94 332.82 L142.89 332.15 L143.85 331.49 L144.81 330.84 L145.76 330.19 L146.72 329.55 L147.68 328.92 L148.64 328.29 L149.59 327.67 L150.55 327.06 L151.51 326.45 L152.46 325.85 L153.42 325.25 L154.38 324.66 L155.33 324.08 L156.29 323.50 L157.25 322.92 L158.21 322.35 L159.16 321.79 L160.12 321.23 L161.08 320.67 L162.03 320.12 L162.99 319.57 L163.95 319.03 L164.90 318.49 L165.86 317.96 L166.82 317.43 L167.77 316.90 L168.73 316.38 L169.69 315.86 L170.65 315.35 L171.60 314.83 L172.56 314.33 L173.52 313.82 L174.47 313.32 L175.43 312.82 L176.39 312.33 L177.34 311.83 L178.30 311.34 L179.26 310.86 L180.22 310.38 L181.17 309.89 L182.13 309.42 L183.09 308.94 L184.04 308.47 L185.00 308.00"/><path d="M89.40 397.50 L90.40 395.59 L91.40 393.73 L92.40 391.93 L93.40 390.18 L94.40 388.48 L95.40 386.83 L96.40 385.22 L97.40 383.66 L98.40 382.14 L99.40 380.66 L100.40 379.22 L101.40 377.82 L102.40 376.46 L103.40 375.13 L104.40 373.83 L105.40 372.57 L106.40 371.33 L107.40 370.13 L108.40 368.95 L109.40 367.81 L110.42 366.66 L111.44 365.55 L112.46 364.46 L113.48 363.39 L114.50 362.35 L115.52 361.33 L116.54 360.34 L117.56 359.37 L118.58 358.41 L119.60 357.48 L120.62 356.57 L121.64 355.68 L122.66 354.81 L123.68 353.95 L124.70 353.11 L125.72 352.29 L126.74 351.49 L127.76 350.70 L128.78 349.92 L129.81 349.16 L130.83 348.42 L131.85 347.69 L132.87 346.98 L133.89 346.27 L134.91 345.58 L135.93 344.91 L136.95 344.24 L137.97 343.59 L138.99 342.95 L140.01 342.32 L141.03 341.70 L142.05 341.09 L143.07 340.50 L144.09 339.91 L145.11 339.33 L146.13 338.77 L147.15 338.21 L148.17 337.66 L149.19 337.12 L150.21 336.59 L151.23 336.07 L152.25 335.55 L153.27 335.05 L154.29 334.55 L155.31 334.06 L156.33 333.58 L157.35 333.10 L158.37 332.63 L159.39 332.17 L160.41 331.72 L161.43 331.27 L162.45 330.83 L163.47 330.40 L164.49 329.97 L165.51 329.55 L166.53 329.13 L167.55 328.73 L168.57 328.32 L169.59 327.92 L170.62 327.53 L171.64 327.15 L172.66 326.76 L173.68 326.39 L174.70 326.02 L175.72 325.65 L176.74 325.29 L177.76 324.93 L178.78 324.58 L179.80 324.23 L180.82 323.89 L181.84 323.55 L182.86 323.22 L183.88 322.89 L184.90 322.57 L185.92 322.24 L186.94 321.93 L187.96 321.61 L188.98 321.31 L190.00 321.00"/><path d="M89.40 397.50 L90.40 395.93 L91.40 394.41 L92.40 392.93 L93.40 391.49 L94.40 390.09 L95.40 388.73 L96.40 387.40 L97.40 386.10 L98.40 384.84 L99.40 383.61 L100.40 382.41 L101.40 381.24 L102.40 380.10 L103.40 378.99 L104.40 377.90 L105.40 376.84 L106.40 375.80 L107.40 374.79 L108.40 373.79 L109.40 372.83 L110.29 371.98 L111.19 371.15 L112.08 370.33 L112.97 369.53 L113.87 368.75 L114.76 367.98 L115.66 367.22 L116.55 366.48 L117.44 365.75 L118.34 365.04 L119.23 364.34 L120.12 363.65 L121.02 362.97 L121.91 362.31 L122.81 361.65 L123.70 361.01 L124.59 360.38 L125.49 359.76 L126.38 359.15 L127.27 358.55 L128.17 357.96 L129.06 357.38 L129.95 356.81 L130.85 356.25 L131.74 355.69 L132.64 355.15 L133.53 354.61 L134.42 354.09 L135.32 353.57 L136.21 353.06 L137.10 352.55 L138.00 352.06 L138.89 351.57 L139.78 351.09 L140.68 350.61 L141.57 350.15 L142.47 349.69 L143.36 349.23 L144.25 348.79 L145.15 348.35 L146.04 347.91 L146.93 347.48 L147.83 347.06 L148.72 346.65 L149.62 346.23 L150.51 345.83 L151.40 345.43 L152.30 345.04 L153.19 344.65 L154.08 344.26 L154.98 343.88 L155.87 343.51 L156.76 343.14 L157.66 342.78 L158.55 342.42 L159.45 342.06 L160.34 341.71 L161.23 341.37 L162.13 341.03 L163.02 340.69 L163.91 340.36 L164.81 340.03 L165.70 339.70 L166.59 339.38 L167.49 339.07 L168.38 338.75 L169.28 338.44 L170.17 338.14 L171.06 337.84 L171.96 337.54 L172.85 337.24 L173.74 336.95 L174.64 336.66 L175.53 336.38 L176.43 336.10 L177.32 335.82 L178.21 335.54 L179.11 335.27 L180.00 335.00"/><path d="M89.40 397.50 L90.40 396.08 L91.40 394.70 L92.40 393.36 L93.40 392.05 L94.40 390.77 L95.40 389.53 L96.40 388.31 L97.40 387.13 L98.40 385.97 L99.40 384.84 L100.40 383.74 L101.40 382.66 L102.40 381.61 L103.40 380.59 L104.40 379.58 L105.40 378.60 L106.40 377.64 L107.40 376.70 L108.40 375.78 L109.40 374.88 L110.23 374.15 L111.06 373.43 L111.89 372.72 L112.72 372.02 L113.55 371.34 L114.38 370.67 L115.21 370.01 L116.04 369.36 L116.87 368.72 L117.70 368.09 L118.53 367.47 L119.36 366.86 L120.19 366.26 L121.03 365.67 L121.86 365.09 L122.69 364.52 L123.52 363.96 L124.35 363.40 L125.18 362.86 L126.01 362.32 L126.84 361.79 L127.67 361.27 L128.50 360.75 L129.33 360.25 L130.16 359.75 L130.99 359.25 L131.82 358.77 L132.65 358.29 L133.48 357.82 L134.31 357.35 L135.14 356.90 L135.97 356.44 L136.80 356.00 L137.63 355.56 L138.46 355.12 L139.29 354.69 L140.12 354.27 L140.95 353.86 L141.78 353.44 L142.62 353.04 L143.45 352.64 L144.28 352.24 L145.11 351.85 L145.94 351.47 L146.77 351.08 L147.60 350.71 L148.43 350.34 L149.26 349.97 L150.09 349.61 L150.92 349.25 L151.75 348.90 L152.58 348.55 L153.41 348.20 L154.24 347.86 L155.07 347.53 L155.90 347.19 L156.73 346.87 L157.56 346.54 L158.39 346.22 L159.22 345.90 L160.05 345.59 L160.88 345.28 L161.71 344.97 L162.54 344.67 L163.37 344.37 L164.21 344.07 L165.04 343.78 L165.87 343.49 L166.70 343.20 L167.53 342.92 L168.36 342.64 L169.19 342.36 L170.02 342.09 L170.85 341.82 L171.68 341.55 L172.51 341.28 L173.34 341.02 L174.17 340.76 L175.00 340.50"/></g>
<rect x="72.80" y="27.00" width="389.00" height="387.60" fill="none" stroke="#585858" stroke-width="1.45"/>
<line x1="68.30" y1="397.50" x2="72.80" y2="397.50" stroke="#444444" stroke-width="1.30"/>
<line x1="68.30" y1="324.06" x2="72.80" y2="324.06" stroke="#444444" stroke-width="1.30"/>
<line x1="68.30" y1="250.62" x2="72.80" y2="250.62" stroke="#444444" stroke-width="1.30"/>
<line x1="68.30" y1="177.18" x2="72.80" y2="177.18" stroke="#444444" stroke-width="1.30"/>
<line x1="68.30" y1="103.74" x2="72.80" y2="103.74" stroke="#444444" stroke-width="1.30"/>
<line x1="68.30" y1="30.30" x2="72.80" y2="30.30" stroke="#444444" stroke-width="1.30"/>
<line x1="89.40" y1="414.60" x2="89.40" y2="418.60" stroke="#444444" stroke-width="1.30"/>
<line x1="207.80" y1="414.60" x2="207.80" y2="418.60" stroke="#444444" stroke-width="1.30"/>
<line x1="326.20" y1="414.60" x2="326.20" y2="418.60" stroke="#444444" stroke-width="1.30"/>
<line x1="444.60" y1="414.60" x2="444.60" y2="418.60" stroke="#444444" stroke-width="1.30"/>
<line x1="480.60" y1="360.78" x2="869.50" y2="360.78" stroke="#f3f3f3" stroke-width="0.80"/>
<line x1="480.60" y1="287.34" x2="869.50" y2="287.34" stroke="#f3f3f3" stroke-width="0.80"/>
<line x1="480.60" y1="213.90" x2="869.50" y2="213.90" stroke="#f3f3f3" stroke-width="0.80"/>
<line x1="480.60" y1="140.46" x2="869.50" y2="140.46" stroke="#f3f3f3" stroke-width="0.80"/>
<line x1="480.60" y1="67.02" x2="869.50" y2="67.02" stroke="#f3f3f3" stroke-width="0.80"/>
<line x1="557.00" y1="27.00" x2="557.00" y2="414.60" stroke="#f3f3f3" stroke-width="0.80"/>
<line x1="675.20" y1="27.00" x2="675.20" y2="414.60" stroke="#f3f3f3" stroke-width="0.80"/>
<line x1="793.40" y1="27.00" x2="793.40" y2="414.60" stroke="#f3f3f3" stroke-width="0.80"/>
<line x1="480.60" y1="397.50" x2="869.50" y2="397.50" stroke="#ebebeb" stroke-width="1.20"/>
<line x1="480.60" y1="324.06" x2="869.50" y2="324.06" stroke="#ebebeb" stroke-width="1.20"/>
<line x1="480.60" y1="250.62" x2="869.50" y2="250.62" stroke="#ebebeb" stroke-width="1.20"/>
<line x1="480.60" y1="177.18" x2="869.50" y2="177.18" stroke="#ebebeb" stroke-width="1.20"/>
<line x1="480.60" y1="103.74" x2="869.50" y2="103.74" stroke="#ebebeb" stroke-width="1.20"/>
<line x1="480.60" y1="30.30" x2="869.50" y2="30.30" stroke="#ebebeb" stroke-width="1.20"/>
<line x1="497.90" y1="27.00" x2="497.90" y2="414.60" stroke="#ebebeb" stroke-width="1.20"/>
<line x1="616.10" y1="27.00" x2="616.10" y2="414.60" stroke="#ebebeb" stroke-width="1.20"/>
<line x1="734.30" y1="27.00" x2="734.30" y2="414.60" stroke="#ebebeb" stroke-width="1.20"/>
<line x1="852.50" y1="27.00" x2="852.50" y2="414.60" stroke="#ebebeb" stroke-width="1.20"/>
<g fill="none" stroke="#f8766d" stroke-width="4.40" stroke-linejoin="round" stroke-linecap="round" stroke-opacity="0.22"><path d="M497.90 397.30 L498.90 391.18 L499.90 387.38 L500.90 384.59 L501.90 382.42 L502.90 380.67 L503.90 379.22 L504.90 378.00 L505.90 376.95 L506.90 376.04 L507.90 375.24 L508.90 374.53 L509.90 373.90 L510.90 373.33 L511.90 372.82 L512.90 372.35 L513.90 371.93 L514.90 371.54 L515.90 371.18 L516.90 370.85 L517.90 370.54 L518.85 370.27 L519.81 370.01 L520.76 369.77 L521.72 369.54 L522.67 369.33 L523.63 369.13 L524.58 368.94 L525.54 368.76 L526.49 368.59 L527.44 368.43 L528.40 368.28 L529.35 368.13 L530.31 367.99 L531.26 367.86 L532.22 367.73 L533.17 367.61 L534.13 367.49 L535.08 367.38 L536.03 367.27 L536.99 367.17 L537.94 367.07 L538.90 366.98 L539.85 366.89 L540.81 366.80 L541.76 366.71 L542.72 366.63 L543.67 366.55 L544.62 366.47 L545.58 366.40 L546.53 366.33 L547.49 366.26 L548.44 366.19 L549.40 366.13 L550.35 366.06 L551.31 366.00 L552.26 365.94 L553.21 365.89 L554.17 365.83 L555.12 365.78 L556.08 365.72 L557.03 365.67 L557.99 365.62 L558.94 365.57 L559.89 365.53 L560.85 365.48 L561.80 365.43 L562.76 365.39 L563.71 365.35 L564.67 365.31 L565.62 365.27 L566.58 365.23 L567.53 365.19 L568.48 365.15 L569.44 365.11 L570.39 365.08 L571.35 365.04 L572.30 365.01 L573.26 364.97 L574.21 364.94 L575.17 364.91 L576.12 364.87 L577.07 364.84 L578.03 364.81 L578.98 364.78 L579.94 364.75 L580.89 364.73 L581.85 364.70 L582.80 364.67 L583.76 364.64 L584.71 364.62 L585.66 364.59 L586.62 364.57 L587.57 364.54 L588.53 364.52 L589.48 364.49 L590.44 364.47 L591.39 364.45 L592.35 364.42 L593.30 364.40"/><path d="M497.90 397.30 L498.90 393.88 L499.90 390.96 L500.90 388.68 L501.90 386.89 L502.90 385.46 L503.90 384.30 L504.90 383.34 L505.90 382.54 L506.90 381.86 L507.90 381.28 L508.90 380.78 L509.90 380.34 L510.90 379.95 L511.90 379.61 L512.90 379.31 L513.90 379.04 L514.90 378.79 L515.90 378.57 L516.90 378.37 L517.90 378.18 L518.82 378.03 L519.74 377.88 L520.66 377.75 L521.58 377.62 L522.49 377.51 L523.41 377.40 L524.33 377.30 L525.25 377.20 L526.17 377.11 L527.09 377.03 L528.01 376.95 L528.93 376.88 L529.85 376.80 L530.77 376.74 L531.68 376.67 L532.60 376.61 L533.52 376.56 L534.44 376.50 L535.36 376.45 L536.28 376.40 L537.20 376.35 L538.12 376.31 L539.04 376.26 L539.96 376.22 L540.87 376.18 L541.79 376.14 L542.71 376.11 L543.63 376.07 L544.55 376.04 L545.47 376.01 L546.39 375.97 L547.31 375.94 L548.23 375.91 L549.15 375.89 L550.06 375.86 L550.98 375.83 L551.90 375.81 L552.82 375.78 L553.74 375.76 L554.66 375.74 L555.58 375.71 L556.50 375.69 L557.42 375.67 L558.34 375.65 L559.25 375.63 L560.17 375.61 L561.09 375.60 L562.01 375.58 L562.93 375.56 L563.85 375.54 L564.77 375.53 L565.69 375.51 L566.61 375.50 L567.53 375.48 L568.44 375.47 L569.36 375.45 L570.28 375.44 L571.20 375.42 L572.12 375.41 L573.04 375.40 L573.96 375.38 L574.88 375.37 L575.80 375.36 L576.72 375.35 L577.63 375.34 L578.55 375.33 L579.47 375.31 L580.39 375.30 L581.31 375.29 L582.23 375.28 L583.15 375.27 L584.07 375.26 L584.99 375.25 L585.91 375.24 L586.82 375.23 L587.74 375.23 L588.66 375.22 L589.58 375.21 L590.50 375.20"/></g><g fill="none" stroke="#00bfc4" stroke-width="4.20" stroke-linejoin="round" stroke-linecap="round" stroke-opacity="0.20"><path d="M497.90 397.30 L498.90 392.57 L499.90 388.53 L500.90 384.78 L501.90 381.22 L502.90 377.83 L503.90 374.57 L504.90 371.42 L505.90 368.38 L506.90 365.44 L507.90 362.59 L508.90 359.81 L509.90 357.11 L510.90 354.48 L511.90 351.92 L512.90 349.42 L513.90 346.97 L514.90 344.59 L515.90 342.26 L516.90 339.98 L517.90 337.75 L520.93 331.26 L523.97 325.16 L527.00 319.40 L530.03 313.95 L533.06 308.78 L536.10 303.87 L539.13 299.19 L542.16 294.72 L545.20 290.46 L548.23 286.38 L551.26 282.47 L554.29 278.73 L557.33 275.13 L560.36 271.67 L563.39 268.35 L566.43 265.14 L569.46 262.06 L572.49 259.08 L575.53 256.20 L578.56 253.43 L581.59 250.74 L584.62 248.15 L587.66 245.63 L590.69 243.20 L593.72 240.84 L596.76 238.55 L599.79 236.33 L602.82 234.17 L605.85 232.08 L608.89 230.04 L611.92 228.06 L614.95 226.14 L617.99 224.27 L621.02 222.44 L624.05 220.67 L627.08 218.94 L630.12 217.25 L633.15 215.61 L636.18 214.01 L639.22 212.44 L642.25 210.91 L645.28 209.42 L648.32 207.97 L651.35 206.54 L654.38 205.15 L657.41 203.79 L660.45 202.46 L663.48 201.16 L666.51 199.89 L669.55 198.65 L672.58 197.43 L675.61 196.24 L678.64 195.07 L681.68 193.92 L684.71 192.80 L687.74 191.70 L690.78 190.62 L693.81 189.57 L696.84 188.53 L699.87 187.51 L702.91 186.52 L705.94 185.54 L708.97 184.58 L712.01 183.63 L715.04 182.71 L718.07 181.80 L721.11 180.90 L724.14 180.03 L727.17 179.16 L730.20 178.32 L733.24 177.48 L736.27 176.67 L739.30 175.86 L742.34 175.07 L745.37 174.29 L748.40 173.52 L751.43 172.77 L754.47 172.03 L757.50 171.30"/><path d="M497.90 397.30 L498.90 393.20 L499.90 389.55 L500.90 386.12 L501.90 382.85 L502.90 379.72 L503.90 376.71 L504.90 373.80 L505.90 370.99 L506.90 368.27 L507.90 365.63 L508.90 363.07 L509.90 360.59 L510.90 358.17 L511.90 355.82 L512.90 353.53 L513.90 351.30 L514.90 349.13 L515.90 347.01 L516.90 344.94 L517.90 342.92 L519.77 339.27 L521.64 335.77 L523.51 332.42 L525.37 329.20 L527.24 326.10 L529.11 323.12 L530.98 320.25 L532.85 317.47 L534.72 314.80 L536.58 312.22 L538.45 309.72 L540.32 307.31 L542.19 304.97 L544.06 302.71 L545.93 300.52 L547.79 298.39 L549.66 296.33 L551.53 294.33 L553.40 292.38 L555.27 290.50 L557.14 288.66 L559.00 286.87 L560.87 285.14 L562.74 283.45 L564.61 281.80 L566.48 280.19 L568.35 278.63 L570.21 277.11 L572.08 275.62 L573.95 274.17 L575.82 272.76 L577.69 271.37 L579.56 270.03 L581.42 268.71 L583.29 267.42 L585.16 266.16 L587.03 264.93 L588.90 263.73 L590.77 262.55 L592.63 261.40 L594.50 260.27 L596.37 259.17 L598.24 258.09 L600.11 257.03 L601.98 255.99 L603.84 254.98 L605.71 253.98 L607.58 253.01 L609.45 252.05 L611.32 251.11 L613.19 250.19 L615.05 249.29 L616.92 248.40 L618.79 247.53 L620.66 246.67 L622.53 245.84 L624.40 245.01 L626.26 244.20 L628.13 243.41 L630.00 242.63 L631.87 241.86 L633.74 241.11 L635.61 240.36 L637.47 239.63 L639.34 238.92 L641.21 238.21 L643.08 237.52 L644.95 236.84 L646.82 236.17 L648.68 235.50 L650.55 234.85 L652.42 234.21 L654.29 233.58 L656.16 232.96 L658.03 232.35 L659.89 231.75 L661.76 231.16 L663.63 230.58 L665.50 230.00"/></g><g fill="none" stroke="#e57c75" stroke-width="1.20" stroke-linejoin="round" stroke-linecap="round" stroke-opacity="0.90"><path d="M497.90 397.30 L498.90 391.18 L499.90 387.38 L500.90 384.59 L501.90 382.42 L502.90 380.67 L503.90 379.22 L504.90 378.00 L505.90 376.95 L506.90 376.04 L507.90 375.24 L508.90 374.53 L509.90 373.90 L510.90 373.33 L511.90 372.82 L512.90 372.35 L513.90 371.93 L514.90 371.54 L515.90 371.18 L516.90 370.85 L517.90 370.54 L518.85 370.27 L519.81 370.01 L520.76 369.77 L521.72 369.54 L522.67 369.33 L523.63 369.13 L524.58 368.94 L525.54 368.76 L526.49 368.59 L527.44 368.43 L528.40 368.28 L529.35 368.13 L530.31 367.99 L531.26 367.86 L532.22 367.73 L533.17 367.61 L534.13 367.49 L535.08 367.38 L536.03 367.27 L536.99 367.17 L537.94 367.07 L538.90 366.98 L539.85 366.89 L540.81 366.80 L541.76 366.71 L542.72 366.63 L543.67 366.55 L544.62 366.47 L545.58 366.40 L546.53 366.33 L547.49 366.26 L548.44 366.19 L549.40 366.13 L550.35 366.06 L551.31 366.00 L552.26 365.94 L553.21 365.89 L554.17 365.83 L555.12 365.78 L556.08 365.72 L557.03 365.67 L557.99 365.62 L558.94 365.57 L559.89 365.53 L560.85 365.48 L561.80 365.43 L562.76 365.39 L563.71 365.35 L564.67 365.31 L565.62 365.27 L566.58 365.23 L567.53 365.19 L568.48 365.15 L569.44 365.11 L570.39 365.08 L571.35 365.04 L572.30 365.01 L573.26 364.97 L574.21 364.94 L575.17 364.91 L576.12 364.87 L577.07 364.84 L578.03 364.81 L578.98 364.78 L579.94 364.75 L580.89 364.73 L581.85 364.70 L582.80 364.67 L583.76 364.64 L584.71 364.62 L585.66 364.59 L586.62 364.57 L587.57 364.54 L588.53 364.52 L589.48 364.49 L590.44 364.47 L591.39 364.45 L592.35 364.42 L593.30 364.40"/><path d="M497.90 397.30 L498.90 393.88 L499.90 390.96 L500.90 388.68 L501.90 386.89 L502.90 385.46 L503.90 384.30 L504.90 383.34 L505.90 382.54 L506.90 381.86 L507.90 381.28 L508.90 380.78 L509.90 380.34 L510.90 379.95 L511.90 379.61 L512.90 379.31 L513.90 379.04 L514.90 378.79 L515.90 378.57 L516.90 378.37 L517.90 378.18 L518.82 378.03 L519.74 377.88 L520.66 377.75 L521.58 377.62 L522.49 377.51 L523.41 377.40 L524.33 377.30 L525.25 377.20 L526.17 377.11 L527.09 377.03 L528.01 376.95 L528.93 376.88 L529.85 376.80 L530.77 376.74 L531.68 376.67 L532.60 376.61 L533.52 376.56 L534.44 376.50 L535.36 376.45 L536.28 376.40 L537.20 376.35 L538.12 376.31 L539.04 376.26 L539.96 376.22 L540.87 376.18 L541.79 376.14 L542.71 376.11 L543.63 376.07 L544.55 376.04 L545.47 376.01 L546.39 375.97 L547.31 375.94 L548.23 375.91 L549.15 375.89 L550.06 375.86 L550.98 375.83 L551.90 375.81 L552.82 375.78 L553.74 375.76 L554.66 375.74 L555.58 375.71 L556.50 375.69 L557.42 375.67 L558.34 375.65 L559.25 375.63 L560.17 375.61 L561.09 375.60 L562.01 375.58 L562.93 375.56 L563.85 375.54 L564.77 375.53 L565.69 375.51 L566.61 375.50 L567.53 375.48 L568.44 375.47 L569.36 375.45 L570.28 375.44 L571.20 375.42 L572.12 375.41 L573.04 375.40 L573.96 375.38 L574.88 375.37 L575.80 375.36 L576.72 375.35 L577.63 375.34 L578.55 375.33 L579.47 375.31 L580.39 375.30 L581.31 375.29 L582.23 375.28 L583.15 375.27 L584.07 375.26 L584.99 375.25 L585.91 375.24 L586.82 375.23 L587.74 375.23 L588.66 375.22 L589.58 375.21 L590.50 375.20"/></g><g fill="none" stroke="#3cb3b6" stroke-width="1.30" stroke-linejoin="round" stroke-linecap="round"><path d="M497.90 397.30 L498.90 392.57 L499.90 388.53 L500.90 384.78 L501.90 381.22 L502.90 377.83 L503.90 374.57 L504.90 371.42 L505.90 368.38 L506.90 365.44 L507.90 362.59 L508.90 359.81 L509.90 357.11 L510.90 354.48 L511.90 351.92 L512.90 349.42 L513.90 346.97 L514.90 344.59 L515.90 342.26 L516.90 339.98 L517.90 337.75 L520.93 331.26 L523.97 325.16 L527.00 319.40 L530.03 313.95 L533.06 308.78 L536.10 303.87 L539.13 299.19 L542.16 294.72 L545.20 290.46 L548.23 286.38 L551.26 282.47 L554.29 278.73 L557.33 275.13 L560.36 271.67 L563.39 268.35 L566.43 265.14 L569.46 262.06 L572.49 259.08 L575.53 256.20 L578.56 253.43 L581.59 250.74 L584.62 248.15 L587.66 245.63 L590.69 243.20 L593.72 240.84 L596.76 238.55 L599.79 236.33 L602.82 234.17 L605.85 232.08 L608.89 230.04 L611.92 228.06 L614.95 226.14 L617.99 224.27 L621.02 222.44 L624.05 220.67 L627.08 218.94 L630.12 217.25 L633.15 215.61 L636.18 214.01 L639.22 212.44 L642.25 210.91 L645.28 209.42 L648.32 207.97 L651.35 206.54 L654.38 205.15 L657.41 203.79 L660.45 202.46 L663.48 201.16 L666.51 199.89 L669.55 198.65 L672.58 197.43 L675.61 196.24 L678.64 195.07 L681.68 193.92 L684.71 192.80 L687.74 191.70 L690.78 190.62 L693.81 189.57 L696.84 188.53 L699.87 187.51 L702.91 186.52 L705.94 185.54 L708.97 184.58 L712.01 183.63 L715.04 182.71 L718.07 181.80 L721.11 180.90 L724.14 180.03 L727.17 179.16 L730.20 178.32 L733.24 177.48 L736.27 176.67 L739.30 175.86 L742.34 175.07 L745.37 174.29 L748.40 173.52 L751.43 172.77 L754.47 172.03 L757.50 171.30"/><path d="M497.90 397.30 L498.90 393.20 L499.90 389.55 L500.90 386.12 L501.90 382.85 L502.90 379.72 L503.90 376.71 L504.90 373.80 L505.90 370.99 L506.90 368.27 L507.90 365.63 L508.90 363.07 L509.90 360.59 L510.90 358.17 L511.90 355.82 L512.90 353.53 L513.90 351.30 L514.90 349.13 L515.90 347.01 L516.90 344.94 L517.90 342.92 L519.77 339.27 L521.64 335.77 L523.51 332.42 L525.37 329.20 L527.24 326.10 L529.11 323.12 L530.98 320.25 L532.85 317.47 L534.72 314.80 L536.58 312.22 L538.45 309.72 L540.32 307.31 L542.19 304.97 L544.06 302.71 L545.93 300.52 L547.79 298.39 L549.66 296.33 L551.53 294.33 L553.40 292.38 L555.27 290.50 L557.14 288.66 L559.00 286.87 L560.87 285.14 L562.74 283.45 L564.61 281.80 L566.48 280.19 L568.35 278.63 L570.21 277.11 L572.08 275.62 L573.95 274.17 L575.82 272.76 L577.69 271.37 L579.56 270.03 L581.42 268.71 L583.29 267.42 L585.16 266.16 L587.03 264.93 L588.90 263.73 L590.77 262.55 L592.63 261.40 L594.50 260.27 L596.37 259.17 L598.24 258.09 L600.11 257.03 L601.98 255.99 L603.84 254.98 L605.71 253.98 L607.58 253.01 L609.45 252.05 L611.32 251.11 L613.19 250.19 L615.05 249.29 L616.92 248.40 L618.79 247.53 L620.66 246.67 L622.53 245.84 L624.40 245.01 L626.26 244.20 L628.13 243.41 L630.00 242.63 L631.87 241.86 L633.74 241.11 L635.61 240.36 L637.47 239.63 L639.34 238.92 L641.21 238.21 L643.08 237.52 L644.95 236.84 L646.82 236.17 L648.68 235.50 L650.55 234.85 L652.42 234.21 L654.29 233.58 L656.16 232.96 L658.03 232.35 L659.89 231.75 L661.76 231.16 L663.63 230.58 L665.50 230.00"/></g>
<rect x="480.60" y="27.00" width="388.90" height="387.60" fill="none" stroke="#585858" stroke-width="1.45"/>
<line x1="476.10" y1="397.50" x2="480.60" y2="397.50" stroke="#444444" stroke-width="1.30"/>
<line x1="476.10" y1="324.06" x2="480.60" y2="324.06" stroke="#444444" stroke-width="1.30"/>
<line x1="476.10" y1="250.62" x2="480.60" y2="250.62" stroke="#444444" stroke-width="1.30"/>
<line x1="476.10" y1="177.18" x2="480.60" y2="177.18" stroke="#444444" stroke-width="1.30"/>
<line x1="476.10" y1="103.74" x2="480.60" y2="103.74" stroke="#444444" stroke-width="1.30"/>
<line x1="476.10" y1="30.30" x2="480.60" y2="30.30" stroke="#444444" stroke-width="1.30"/>
<line x1="497.90" y1="414.60" x2="497.90" y2="418.60" stroke="#444444" stroke-width="1.30"/>
<line x1="616.10" y1="414.60" x2="616.10" y2="418.60" stroke="#444444" stroke-width="1.30"/>
<line x1="734.30" y1="414.60" x2="734.30" y2="418.60" stroke="#444444" stroke-width="1.30"/>
<line x1="852.50" y1="414.60" x2="852.50" y2="418.60" stroke="#444444" stroke-width="1.30"/>
<rect x="894.9" y="207.7" width="22.7" height="22.0" fill="#fde3e1" stroke="#e8a7a2" stroke-width="1.2"/>
<line x1="895.50" y1="219.30" x2="917.00" y2="219.30" stroke="#e58a84" stroke-width="1.30"/>
<rect x="894.9" y="232.5" width="22.7" height="21.9" fill="#d3f3f4" stroke="#4fc7ca" stroke-width="1.2"/>
<line x1="895.50" y1="243.90" x2="917.00" y2="243.90" stroke="#3bbabd" stroke-width="1.30"/>
<line x1="73.10" y1="908.53" x2="366.00" y2="908.53" stroke="#f3f3f3" stroke-width="0.80"/>
<line x1="73.10" y1="820.58" x2="366.00" y2="820.58" stroke="#f3f3f3" stroke-width="0.80"/>
<line x1="73.10" y1="732.62" x2="366.00" y2="732.62" stroke="#f3f3f3" stroke-width="0.80"/>
<line x1="73.10" y1="644.68" x2="366.00" y2="644.68" stroke="#f3f3f3" stroke-width="0.80"/>
<line x1="73.10" y1="556.73" x2="366.00" y2="556.73" stroke="#f3f3f3" stroke-width="0.80"/>
<line x1="73.10" y1="952.50" x2="366.00" y2="952.50" stroke="#ebebeb" stroke-width="1.20"/>
<line x1="73.10" y1="864.55" x2="366.00" y2="864.55" stroke="#ebebeb" stroke-width="1.20"/>
<line x1="73.10" y1="776.60" x2="366.00" y2="776.60" stroke="#ebebeb" stroke-width="1.20"/>
<line x1="73.10" y1="688.65" x2="366.00" y2="688.65" stroke="#ebebeb" stroke-width="1.20"/>
<line x1="73.10" y1="600.70" x2="366.00" y2="600.70" stroke="#ebebeb" stroke-width="1.20"/>
<line x1="152.98" y1="540.60" x2="152.98" y2="969.00" stroke="#ebebeb" stroke-width="1.20"/>
<line x1="286.12" y1="540.60" x2="286.12" y2="969.00" stroke="#ebebeb" stroke-width="1.20"/>
<line x1="152.98" y1="626.47" x2="152.98" y2="670.40" stroke="#333333" stroke-width="1.20"/>
<line x1="152.98" y1="723.83" x2="152.98" y2="785.13" stroke="#333333" stroke-width="1.20"/>
<rect x="103.06" y="670.40" width="99.85" height="53.43" fill="#f8766d" stroke="#333333" stroke-width="1.2"/>
<line x1="103.06" y1="698.50" x2="202.91" y2="698.50" stroke="#1f1f1f" stroke-width="2.40"/>
<circle cx="152.98" cy="814.77" r="3.4" fill="#1f1f1f"/>
<line x1="286.12" y1="703.51" x2="286.12" y2="764.00" stroke="#333333" stroke-width="1.20"/>
<line x1="286.12" y1="822.51" x2="286.12" y2="884.78" stroke="#333333" stroke-width="1.20"/>
<rect x="236.19" y="764.00" width="99.85" height="58.51" fill="#00bfc4" stroke="#333333" stroke-width="1.2"/>
<line x1="236.19" y1="787.90" x2="336.04" y2="787.90" stroke="#1f1f1f" stroke-width="2.40"/>
<rect x="73.10" y="540.60" width="292.90" height="428.40" fill="none" stroke="#333333" stroke-width="1.60"/>
<rect x="73.10" y="499.00" width="292.90" height="41.60" fill="#d9d9d9" stroke="#333333" stroke-width="1.60"/>
<line x1="152.98" y1="969.00" x2="152.98" y2="974.40" stroke="#333333" stroke-width="1.30"/>
<line x1="286.12" y1="969.00" x2="286.12" y2="974.40" stroke="#333333" stroke-width="1.30"/>
<line x1="378.70" y1="908.53" x2="673.30" y2="908.53" stroke="#f3f3f3" stroke-width="0.80"/>
<line x1="378.70" y1="820.58" x2="673.30" y2="820.58" stroke="#f3f3f3" stroke-width="0.80"/>
<line x1="378.70" y1="732.62" x2="673.30" y2="732.62" stroke="#f3f3f3" stroke-width="0.80"/>
<line x1="378.70" y1="644.68" x2="673.30" y2="644.68" stroke="#f3f3f3" stroke-width="0.80"/>
<line x1="378.70" y1="556.73" x2="673.30" y2="556.73" stroke="#f3f3f3" stroke-width="0.80"/>
<line x1="378.70" y1="952.50" x2="673.30" y2="952.50" stroke="#ebebeb" stroke-width="1.20"/>
<line x1="378.70" y1="864.55" x2="673.30" y2="864.55" stroke="#ebebeb" stroke-width="1.20"/>
<line x1="378.70" y1="776.60" x2="673.30" y2="776.60" stroke="#ebebeb" stroke-width="1.20"/>
<line x1="378.70" y1="688.65" x2="673.30" y2="688.65" stroke="#ebebeb" stroke-width="1.20"/>
<line x1="378.70" y1="600.70" x2="673.30" y2="600.70" stroke="#ebebeb" stroke-width="1.20"/>
<line x1="459.05" y1="540.60" x2="459.05" y2="969.00" stroke="#ebebeb" stroke-width="1.20"/>
<line x1="592.95" y1="540.60" x2="592.95" y2="969.00" stroke="#ebebeb" stroke-width="1.20"/>
<line x1="459.05" y1="560.10" x2="459.05" y2="564.11" stroke="#333333" stroke-width="1.20"/>
<line x1="459.05" y1="645.29" x2="459.05" y2="686.19" stroke="#333333" stroke-width="1.20"/>
<rect x="408.83" y="564.11" width="100.43" height="81.18" fill="#f8766d" stroke="#333333" stroke-width="1.2"/>
<line x1="408.83" y1="598.41" x2="509.26" y2="598.41" stroke="#1f1f1f" stroke-width="2.40"/>
<line x1="592.95" y1="745.20" x2="592.95" y2="747.20" stroke="#333333" stroke-width="1.20"/>
<line x1="592.95" y1="770.30" x2="592.95" y2="792.52" stroke="#333333" stroke-width="1.20"/>
<rect x="542.74" y="747.20" width="100.43" height="23.10" fill="#00bfc4" stroke="#333333" stroke-width="1.2"/>
<line x1="542.74" y1="754.00" x2="643.17" y2="754.00" stroke="#1f1f1f" stroke-width="2.40"/>
<rect x="378.70" y="540.60" width="294.60" height="428.40" fill="none" stroke="#333333" stroke-width="1.60"/>
<rect x="378.70" y="499.00" width="294.60" height="41.60" fill="#d9d9d9" stroke="#333333" stroke-width="1.60"/>
<line x1="459.05" y1="969.00" x2="459.05" y2="974.40" stroke="#333333" stroke-width="1.30"/>
<line x1="592.95" y1="969.00" x2="592.95" y2="974.40" stroke="#333333" stroke-width="1.30"/>
<line x1="685.60" y1="908.53" x2="980.30" y2="908.53" stroke="#f3f3f3" stroke-width="0.80"/>
<line x1="685.60" y1="820.58" x2="980.30" y2="820.58" stroke="#f3f3f3" stroke-width="0.80"/>
<line x1="685.60" y1="732.62" x2="980.30" y2="732.62" stroke="#f3f3f3" stroke-width="0.80"/>
<line x1="685.60" y1="644.68" x2="980.30" y2="644.68" stroke="#f3f3f3" stroke-width="0.80"/>
<line x1="685.60" y1="556.73" x2="980.30" y2="556.73" stroke="#f3f3f3" stroke-width="0.80"/>
<line x1="685.60" y1="952.50" x2="980.30" y2="952.50" stroke="#ebebeb" stroke-width="1.20"/>
<line x1="685.60" y1="864.55" x2="980.30" y2="864.55" stroke="#ebebeb" stroke-width="1.20"/>
<line x1="685.60" y1="776.60" x2="980.30" y2="776.60" stroke="#ebebeb" stroke-width="1.20"/>
<line x1="685.60" y1="688.65" x2="980.30" y2="688.65" stroke="#ebebeb" stroke-width="1.20"/>
<line x1="685.60" y1="600.70" x2="980.30" y2="600.70" stroke="#ebebeb" stroke-width="1.20"/>
<line x1="765.97" y1="540.60" x2="765.97" y2="969.00" stroke="#ebebeb" stroke-width="1.20"/>
<line x1="899.93" y1="540.60" x2="899.93" y2="969.00" stroke="#ebebeb" stroke-width="1.20"/>
<line x1="765.97" y1="593.20" x2="765.97" y2="636.25" stroke="#333333" stroke-width="1.20"/>
<line x1="765.97" y1="674.90" x2="765.97" y2="710.60" stroke="#333333" stroke-width="1.20"/>
<rect x="715.74" y="636.25" width="100.47" height="38.65" fill="#f8766d" stroke="#333333" stroke-width="1.2"/>
<line x1="715.74" y1="649.20" x2="816.21" y2="649.20" stroke="#1f1f1f" stroke-width="2.40"/>
<line x1="899.93" y1="753.10" x2="899.93" y2="774.90" stroke="#333333" stroke-width="1.20"/>
<rect x="849.69" y="774.90" width="100.47" height="44.70" fill="#00bfc4" stroke="#333333" stroke-width="1.2"/>
<line x1="849.69" y1="812.40" x2="950.16" y2="812.40" stroke="#1f1f1f" stroke-width="2.40"/>
<circle cx="899.93" cy="950.60" r="3.4" fill="#1f1f1f"/>
<rect x="685.60" y="540.60" width="294.70" height="428.40" fill="none" stroke="#333333" stroke-width="1.60"/>
<rect x="685.60" y="499.00" width="294.70" height="41.60" fill="#d9d9d9" stroke="#333333" stroke-width="1.60"/>
<line x1="765.97" y1="969.00" x2="765.97" y2="974.40" stroke="#333333" stroke-width="1.30"/>
<line x1="899.93" y1="969.00" x2="899.93" y2="974.40" stroke="#333333" stroke-width="1.30"/>
<line x1="66.40" y1="952.50" x2="73.10" y2="952.50" stroke="#333333" stroke-width="1.30"/>
<line x1="66.40" y1="864.55" x2="73.10" y2="864.55" stroke="#333333" stroke-width="1.30"/>
<line x1="66.40" y1="776.60" x2="73.10" y2="776.60" stroke="#333333" stroke-width="1.30"/>
<line x1="66.40" y1="688.65" x2="73.10" y2="688.65" stroke="#333333" stroke-width="1.30"/>
<line x1="66.40" y1="600.70" x2="73.10" y2="600.70" stroke="#333333" stroke-width="1.30"/>
<text x="78.35" y="15.12" font-size="17.03" textLength="12.15" lengthAdjust="spacingAndGlyphs" fill="#000" font-weight="bold">A</text>
<text x="484.09" y="15.00" font-size="16.69" textLength="12.43" lengthAdjust="spacingAndGlyphs" fill="#000" font-weight="bold">B</text>
<text x="56.37" y="404.75" font-size="15.35" textLength="7.27" lengthAdjust="spacingAndGlyphs" fill="#585858">0</text>
<text x="41.17" y="331.44" font-size="15.83" textLength="22.45" lengthAdjust="spacingAndGlyphs" fill="#585858">250</text>
<text x="41.07" y="257.83" font-size="15.23" textLength="22.54" lengthAdjust="spacingAndGlyphs" fill="#585858">500</text>
<text x="41.16" y="184.46" font-size="14.96" textLength="22.44" lengthAdjust="spacingAndGlyphs" fill="#585858">750</text>
<text x="34.10" y="110.70" font-size="14.90" textLength="29.46" lengthAdjust="spacingAndGlyphs" fill="#585858">1000</text>
<text x="34.40" y="37.50" font-size="15.83" textLength="29.16" lengthAdjust="spacingAndGlyphs" fill="#585858">1250</text>
<text x="85.23" y="435.84" font-size="16.24" textLength="7.27" lengthAdjust="spacingAndGlyphs" fill="#585858">0</text>
<text x="192.13" y="435.78" font-size="15.44" textLength="30.28" lengthAdjust="spacingAndGlyphs" fill="#585858">2000</text>
<text x="310.84" y="435.95" font-size="15.86" textLength="29.79" lengthAdjust="spacingAndGlyphs" fill="#585858">4000</text>
<text x="428.87" y="435.75" font-size="16.18" textLength="30.32" lengthAdjust="spacingAndGlyphs" fill="#585858">6000</text>
<text x="179.20" y="458.67" font-size="17.48" textLength="174.47" lengthAdjust="spacingAndGlyphs" fill="#222222">Sequence Sample Size</text>
<text x="493.62" y="435.49" font-size="15.32" textLength="7.51" lengthAdjust="spacingAndGlyphs" fill="#585858">0</text>
<text x="600.45" y="435.78" font-size="15.40" textLength="30.12" lengthAdjust="spacingAndGlyphs" fill="#585858">2000</text>
<text x="718.97" y="435.94" font-size="15.92" textLength="29.89" lengthAdjust="spacingAndGlyphs" fill="#585858">4000</text>
<text x="836.83" y="435.77" font-size="16.20" textLength="30.12" lengthAdjust="spacingAndGlyphs" fill="#585858">6000</text>
<text x="587.07" y="458.22" font-size="17.41" textLength="174.32" lengthAdjust="spacingAndGlyphs" fill="#222222">Sequence Sample Size</text>
<text transform="translate(22.70 290.58) rotate(-90)" x="0" y="0" font-size="17.74" textLength="137.41" lengthAdjust="spacingAndGlyphs" fill="#222222">Species Richness</text>
<text x="892.75" y="200.92" font-size="18.44" textLength="31.52" lengthAdjust="spacingAndGlyphs" fill="#222222">type</text>
<text x="920.90" y="225.63" font-size="14.23" textLength="45.23" lengthAdjust="spacingAndGlyphs" fill="#222222">aerosol</text>
<text x="920.92" y="249.60" font-size="15.64" textLength="33.29" lengthAdjust="spacingAndGlyphs" fill="#222222">water</text>
<text x="72.82" y="484.66" font-size="17.28" textLength="12.05" lengthAdjust="spacingAndGlyphs" fill="#000" font-weight="bold">C</text>
<text x="378.82" y="484.36" font-size="17.03" textLength="11.73" lengthAdjust="spacingAndGlyphs" fill="#000" font-weight="bold">D</text>
<text x="685.91" y="484.36" font-size="17.03" textLength="10.63" lengthAdjust="spacingAndGlyphs" fill="#000" font-weight="bold">E</text>
<text x="203.86" y="529.64" font-size="22.15" textLength="27.78" lengthAdjust="spacingAndGlyphs" fill="#1a1a1a">FB</text>
<text x="505.02" y="529.30" font-size="22.41" textLength="39.72" lengthAdjust="spacingAndGlyphs" fill="#1a1a1a">LVP</text>
<text x="816.89" y="529.65" font-size="23.41" textLength="28.96" lengthAdjust="spacingAndGlyphs" fill="#1a1a1a">NC</text>
<text x="48.58" y="961.41" font-size="22.05" textLength="11.51" lengthAdjust="spacingAndGlyphs" fill="#585858">2</text>
<text x="48.63" y="873.73" font-size="21.89" textLength="11.28" lengthAdjust="spacingAndGlyphs" fill="#585858">3</text>
<text x="49.13" y="785.71" font-size="22.63" textLength="10.41" lengthAdjust="spacingAndGlyphs" fill="#585858">4</text>
<text x="48.60" y="697.59" font-size="22.25" textLength="11.34" lengthAdjust="spacingAndGlyphs" fill="#585858">5</text>
<text x="48.59" y="610.05" font-size="22.42" textLength="11.42" lengthAdjust="spacingAndGlyphs" fill="#585858">6</text>
<text x="119.62" y="999.38" font-size="20.71" textLength="65.20" lengthAdjust="spacingAndGlyphs" fill="#585858">aerosol</text>
<text x="260.90" y="999.38" font-size="20.21" textLength="48.45" lengthAdjust="spacingAndGlyphs" fill="#585858">water</text>
<text x="425.83" y="999.38" font-size="20.76" textLength="65.26" lengthAdjust="spacingAndGlyphs" fill="#585858">aerosol</text>
<text x="567.73" y="999.38" font-size="19.61" textLength="48.54" lengthAdjust="spacingAndGlyphs" fill="#585858">water</text>
<text x="732.69" y="999.38" font-size="21.14" textLength="65.23" lengthAdjust="spacingAndGlyphs" fill="#585858">aerosol</text>
<text x="874.49" y="999.37" font-size="20.23" textLength="48.64" lengthAdjust="spacingAndGlyphs" fill="#585858">water</text>
<text transform="translate(33.01 898.42) rotate(-90)" x="0" y="0" font-size="24.68" textLength="288.10" lengthAdjust="spacingAndGlyphs" fill="#222222">Alpha Diversity (Shannon)</text>
</svg>
</body></html>
